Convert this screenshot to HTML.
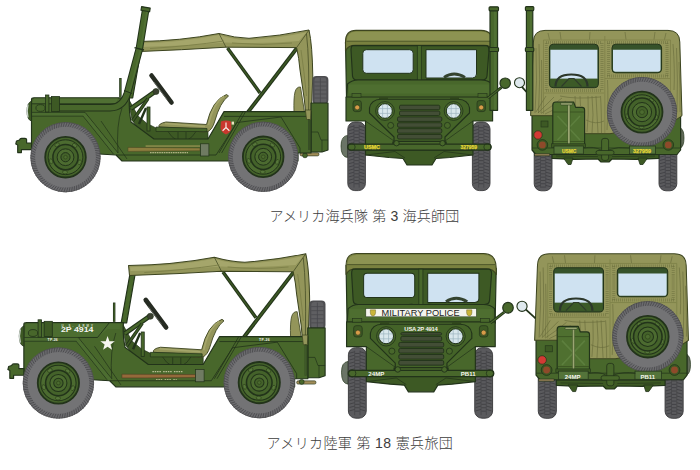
<!DOCTYPE html>
<html lang="ja"><head><meta charset="utf-8"><title>M151A2</title>
<style>
html,body{margin:0;padding:0;background:#fff;}
body{width:700px;height:470px;overflow:hidden;position:relative;font-family:"Liberation Sans","Noto Sans CJK JP",sans-serif;}
svg{position:absolute;left:0;top:0;}
.cap{position:absolute;color:#3c3c3c;font-size:14px;font-weight:300;white-space:nowrap;line-height:16px;}
</style></head><body>
<svg width="700" height="470" viewBox="0 0 700 470">
<g id="r1side"><path d="M135.9,50 L127.3,98 L132.7,98 L141,50 Z" fill="#48672b" stroke="#22331a" stroke-width="1.15" stroke-linejoin="round"/><path d="M120.4,78 L120.4,97" stroke="#22331a" stroke-width="2.4"/><path d="M120.4,78.6 L120.4,97" stroke="#48672b" stroke-width="1"/><path d="M294,112 Q293.5,98 295,92 Q296.5,86.6 300.5,87 L304.5,112 Z" fill="#93955a" stroke="#3d4520" stroke-width="0.8"/><path d="M227.5,48 L260,93" stroke="#22331a" stroke-width="3.4" fill="none"/><path d="M227.5,48 L260,93" stroke="#3d5924" stroke-width="1.3" fill="none"/><path d="M297,48 L242,120" stroke="#22331a" stroke-width="3.8" fill="none"/><path d="M297,48 L242,120" stroke="#3d5924" stroke-width="1.6" fill="none"/><path d="M139,41.5 Q180,41 219,33.5 Q235,38 249,38.3 Q280,36 309,30 Q312.4,45 312.8,77 L311,117 L306,117 L304.4,100 L300,70 Q299,58 296.6,47.6 L226,47.2 Q180,50 140,51.5 Z" fill="#93955a" stroke="#3d4520" stroke-width="1" stroke-linejoin="round"/><path d="M140.5,43.3 Q180,42.5 219,35 Q235,40 249,40 Q280,38 306.6,32.3 L299,41 Q260,44 226,42.5 Q180,46 141,47 Z" fill="#a5a66b"/><path d="M219,33.5 L226,47.2 M309,30 L296.6,47.6 M306.5,34 Q309.6,60 308.6,110" stroke="#3d4520" stroke-width="0.7" fill="none"/><path d="M150,48.5 Q190,46 224,41 M232,43 Q262,46 292,43 M301,50 Q304,70 306.5,96" stroke="#7d8048" stroke-width="0.9" fill="none"/><rect x="312.4" y="76" width="16" height="28" rx="4" fill="#4d4d50"/><rect x="314.4" y="77.5" width="12" height="26" rx="3" fill="#5f5f62"/><path d="M320.4,78 V103 M314.4,82h12M314.4,86h12M314.4,90h12M314.4,94h12M314.4,98h12" stroke="#47474a" stroke-width="0.7"/><path d="M311,103 L328,103 L328,150 L322,152 L311,152 Z" fill="#48672b" stroke="#22331a" stroke-width="1.15" stroke-linejoin="round"/><path d="M311,132 L318,132 L321,140 L328,140 M322,140 L322,152" fill="none" stroke="#22331a" stroke-width="0.7"/><rect x="300" y="152.7" width="19" height="3.2" rx="1.4" fill="#a08c58" stroke="#22331a" stroke-width="0.6"/><circle cx="305" cy="155.4" r="2.4" fill="#48672b" stroke="#22331a" stroke-width="0.7"/><path d="M128,98 L138,116 L147,123.5 L156,128 L208,128 L208,140 L146,140 L132,120 Z" fill="#3d5924" stroke="#22331a" stroke-width="0.7"/><path d="M131,108.5 L156,91" stroke="#22331a" stroke-width="4.6" fill="none"/><path d="M131,108.5 L156,91" stroke="#48672b" stroke-width="2.6" fill="none"/><path d="M132.5,121 L148,98.5" stroke="#22331a" stroke-width="3.4" fill="none"/><path d="M132.5,121 L148,98.5" stroke="#3d5924" stroke-width="1.6" fill="none"/><path d="M139,124 L146,108" stroke="#22331a" stroke-width="2.4" fill="none"/><circle cx="156" cy="91.5" r="3" fill="#3a4030" stroke="#22331a" stroke-width="0.6"/><path d="M151.5,75.5 L171.5,102.5" stroke="#262b22" stroke-width="4.6" stroke-linecap="round" fill="none"/><path d="M154,82 L167,99.5" stroke="#6a6f66" stroke-width="0.9" fill="none"/><rect x="147" y="107" width="3" height="24" fill="#48672b" stroke="#22331a" stroke-width="0.8"/><path d="M226.5,94.5 Q212,100 206.5,124.5 L166,122 Q158,123.5 159,127 L190,128.5 Q200,133.5 208,131.5 Q212.5,129 214.5,122 Q220,102 228.5,96 Z" fill="#93955a" stroke="#3d4520" stroke-width="0.9" stroke-linejoin="round"/><path d="M224,96.5 Q213,103 208.5,125" fill="none" stroke="#a5a66b" stroke-width="1.6"/><path d="M165,123.6 L205,126.4" fill="none" stroke="#a5a66b" stroke-width="1.5"/><path d="M156,127 L207,128.5 L207,131.5 L156,131.5 Z" fill="#48672b" stroke="#22331a" stroke-width="0.7"/><path d="M168,131.5 Q172,138 176,139.5 M196,131.5 Q192,138 188,139.5 M178,132 V139 M186,132 V139" stroke="#22331a" stroke-width="0.7" fill="none"/><path d="M31.5,99.5 Q31.5,97.8 34,97.8 L129.5,97.8 Q128.5,110 131,122 L154,139 L208,139 L224,111.6 L311,111.6 L311,153 L298,153 L298,161 L219,161 L122,161 L116,155 L31.5,150 Z" fill="#48672b" stroke="#22331a" stroke-width="1.15" stroke-linejoin="round"/><path d="M34,98.3 L118,98.3 L116,103.6 L32,103.6 Z" fill="#577738" opacity="0.6"/><path d="M32,103.8 L116,103.8" fill="none" stroke="#22331a" stroke-width="0.9"/><path d="M32,112.4 L85,112.4 L118,153 M32,116 L83,116 L113.5,154" fill="none" stroke="#22331a" stroke-width="0.9"/><path d="M85,112.4 L118,153 L116,155 L113.5,154 L83,116 Z" fill="#577738" opacity="0.35"/><path d="M32,112.4 L85,112.4 L83,116 L32,116 Z" fill="#577738" opacity="0.35"/><path d="M57,107.7 L110,107.7 Q123,107.7 127.5,93 L139.3,49 L145.8,9" fill="none" stroke="#22331a" stroke-width="7.6" stroke-linejoin="round"/><path d="M57,107.7 L110,107.7 Q123,107.7 127.5,93 L139.3,49 L145.8,9" fill="none" stroke="#48672b" stroke-width="5.6" stroke-linejoin="round"/><path d="M129.3,93 L140.7,49 L147,11" fill="none" stroke="#577738" stroke-width="1.6" opacity="0.6"/><path d="M141.6,6.6 L150.2,8.1 L149.6,11.8 L141,10.3 Z" fill="#48672b" stroke="#22331a" stroke-width="1.15" stroke-linejoin="round"/><path d="M134.5,47.6 L144,50" stroke="#22331a" stroke-width="1.4"/><path d="M124,90.5 L132,93.5" stroke="#22331a" stroke-width="1"/><rect x="45.5" y="95" width="3.4" height="17" fill="#48672b" stroke="#22331a" stroke-width="0.8"/><rect x="51.5" y="96.5" width="8" height="15" fill="#3d5924" stroke="#22331a" stroke-width="0.8"/><ellipse cx="40.5" cy="108" rx="4.6" ry="3.4" fill="#48672b" stroke="#22331a" stroke-width="0.8"/><path d="M31.5,101 Q27,103 27,111 Q27,120 31.5,121 Z" fill="#3d5924" stroke="#22331a" stroke-width="0.8"/><path d="M28,104.5 Q26.3,111 28,117.5" stroke="#cfd8d0" stroke-width="1.3" fill="none"/><path d="M101,121 L127,159 M122,108 Q116,125 118,153" fill="none" stroke="#22331a" stroke-width="0.7"/><path d="M116,155 L216,155 L237,122.5 L281,117 M243,111.6 L219,153 M245.6,111.6 L221.6,153 M224,116.4 L311,116.4 M281,117 L300,148 L300,153" fill="none" stroke="#22331a" stroke-width="0.8"/><path d="M305.4,110 L310.9,110 L310.6,119.5 L306.6,119.5 Z" fill="#93955a" stroke="#3d4520" stroke-width="0.7"/><path d="M308.8,119.5 V150" stroke="#22331a" stroke-width="1.6"/><path d="M308.8,120 V150" stroke="#577738" stroke-width="0.6"/><rect x="145.6" y="145.5" width="54.4" height="1.1" fill="#a69a58"/><path d="M128,147.4 L200,148 L200,150.8 L150,151.2 L128,151.4 Z" fill="#8c7d3e" stroke="#4a4420" stroke-width="0.5"/><path d="M150,152.7 H188" stroke="#aeb083" stroke-width="1.2" stroke-dasharray="1.6 0.7"/><rect x="200.5" y="143.8" width="8.4" height="12.2" fill="#6f7b62" stroke="#22331a" stroke-width="0.7"/><path d="M31.5,143 L26.6,143 L26.6,139.6 Q26.6,138.4 25,138.4 L21.5,138.4 Q20,138.4 19.5,140 L16.5,141 L15.8,144 L17.7,145 L17.7,152.6 L21.4,152.6 L21.4,149.6 L31.5,149.6 Z" fill="#48672b" stroke="#22331a" stroke-width="1.15" stroke-linejoin="round"/><circle cx="65.5" cy="157.2" r="35" fill="#6c6c6f"/><circle cx="65.5" cy="157.2" r="30.4" fill="#737375"/><path d="M95.9,157.2L100.5,158.9M95.8,159.5L100.2,161.6M95.6,161.7L99.8,164.1M95.1,164.0L99.2,166.7M94.5,166.2L98.4,169.2M93.8,168.3L97.4,171.6M92.9,170.4L96.2,173.9M91.8,172.4L94.9,176.2M90.6,174.3L93.4,178.3M89.3,176.2L91.7,180.4M87.8,177.9L89.9,182.3M86.2,179.5L88.0,184.0M84.5,181.0L85.9,185.6M82.6,182.3L83.7,187.1M80.7,183.5L81.5,188.3M78.7,184.6L79.1,189.5M76.6,185.5L76.6,190.4M74.5,186.2L74.1,191.1M72.3,186.8L71.6,191.7M70.0,187.3L69.0,192.0M67.8,187.5L66.4,192.2M65.5,187.6L63.8,192.2M63.2,187.5L61.1,191.9M61.0,187.3L58.6,191.5M58.7,186.8L56.0,190.9M56.5,186.2L53.5,190.1M54.4,185.5L51.1,189.1M52.3,184.6L48.8,187.9M50.3,183.5L46.5,186.6M48.4,182.3L44.4,185.1M46.5,181.0L42.3,183.4M44.8,179.5L40.4,181.6M43.2,177.9L38.7,179.7M41.7,176.2L37.1,177.6M40.4,174.3L35.6,175.4M39.2,172.4L34.4,173.2M38.1,170.4L33.2,170.8M37.2,168.3L32.3,168.3M36.5,166.2L31.6,165.8M35.9,164.0L31.0,163.3M35.4,161.7L30.7,160.7M35.2,159.5L30.5,158.1M35.1,157.2L30.5,155.5M35.2,154.9L30.8,152.8M35.4,152.7L31.2,150.3M35.9,150.4L31.8,147.7M36.5,148.2L32.6,145.2M37.2,146.1L33.6,142.8M38.1,144.0L34.8,140.5M39.2,142.0L36.1,138.2M40.4,140.1L37.6,136.1M41.7,138.2L39.3,134.0M43.2,136.5L41.1,132.1M44.8,134.9L43.0,130.4M46.5,133.4L45.1,128.8M48.4,132.1L47.3,127.3M50.3,130.9L49.5,126.1M52.3,129.8L51.9,124.9M54.4,128.9L54.4,124.0M56.5,128.2L56.9,123.3M58.7,127.6L59.4,122.7M61.0,127.1L62.0,122.4M63.2,126.9L64.6,122.2M65.5,126.8L67.2,122.2M67.8,126.9L69.9,122.5M70.0,127.1L72.4,122.9M72.3,127.6L75.0,123.5M74.5,128.2L77.5,124.3M76.6,128.9L79.9,125.3M78.7,129.8L82.2,126.5M80.7,130.9L84.5,127.8M82.6,132.1L86.6,129.3M84.5,133.4L88.7,131.0M86.2,134.9L90.6,132.8M87.8,136.5L92.3,134.7M89.3,138.2L93.9,136.8M90.6,140.1L95.4,139.0M91.8,142.0L96.6,141.2M92.9,144.0L97.8,143.6M93.8,146.1L98.7,146.1M94.5,148.2L99.4,148.6M95.1,150.4L100.0,151.1M95.6,152.7L100.3,153.7M95.8,154.9L100.5,156.3" stroke="#47474a" stroke-width="0.8" fill="none"/><circle cx="65.5" cy="157.2" r="34.7" fill="none" stroke="#4c4c4e" stroke-width="0.7"/><circle cx="65.5" cy="157.2" r="20.3" fill="#44622a" stroke="#22331a" stroke-width="1.8"/><circle cx="65.5" cy="157.2" r="17.4" fill="#4c6b30" stroke="#22331a" stroke-width="1"/><ellipse cx="79.6" cy="162.3" rx="2.5" ry="1.7" transform="rotate(110 79.6 162.3)" fill="#56763a" stroke="#2f451b" stroke-width="0.7"/><ellipse cx="65.0" cy="172.2" rx="2.5" ry="1.7" transform="rotate(182 65.0 172.2)" fill="#56763a" stroke="#2f451b" stroke-width="0.7"/><ellipse cx="51.1" cy="161.3" rx="2.5" ry="1.7" transform="rotate(254 51.1 161.3)" fill="#56763a" stroke="#2f451b" stroke-width="0.7"/><ellipse cx="57.1" cy="144.8" rx="2.5" ry="1.7" transform="rotate(326 57.1 144.8)" fill="#56763a" stroke="#2f451b" stroke-width="0.7"/><ellipse cx="74.7" cy="145.4" rx="2.5" ry="1.7" transform="rotate(398 74.7 145.4)" fill="#56763a" stroke="#2f451b" stroke-width="0.7"/><circle cx="65.5" cy="157.2" r="12.6" fill="#44622a" stroke="#22331a" stroke-width="1.5"/><circle cx="65.5" cy="157.2" r="8.4" fill="#4c6b30" stroke="#22331a" stroke-width="1"/><circle cx="65.5" cy="157.2" r="4.6" fill="#44622a" stroke="#22331a" stroke-width="1"/><circle cx="65.5" cy="157.2" r="1.8" fill="#4c6b30" stroke="#2f451b" stroke-width="0.7"/><circle cx="263.2" cy="156.8" r="35" fill="#6c6c6f"/><circle cx="263.2" cy="156.8" r="30.4" fill="#737375"/><path d="M293.6,156.8L298.2,158.5M293.5,159.1L297.9,161.2M293.3,161.3L297.5,163.7M292.8,163.6L296.9,166.3M292.2,165.8L296.1,168.8M291.5,167.9L295.1,171.2M290.6,170.0L293.9,173.5M289.5,172.0L292.6,175.8M288.3,173.9L291.1,177.9M287.0,175.8L289.4,180.0M285.5,177.5L287.6,181.9M283.9,179.1L285.7,183.6M282.2,180.6L283.6,185.2M280.3,181.9L281.4,186.7M278.4,183.1L279.2,187.9M276.4,184.2L276.8,189.1M274.3,185.1L274.3,190.0M272.2,185.8L271.8,190.7M270.0,186.4L269.3,191.3M267.7,186.9L266.7,191.6M265.5,187.1L264.1,191.8M263.2,187.2L261.5,191.8M260.9,187.1L258.8,191.5M258.7,186.9L256.3,191.1M256.4,186.4L253.7,190.5M254.2,185.8L251.2,189.7M252.1,185.1L248.8,188.7M250.0,184.2L246.5,187.5M248.0,183.1L244.2,186.2M246.1,181.9L242.1,184.7M244.2,180.6L240.0,183.0M242.5,179.1L238.1,181.2M240.9,177.5L236.4,179.3M239.4,175.8L234.8,177.2M238.1,173.9L233.3,175.0M236.9,172.0L232.1,172.8M235.8,170.0L230.9,170.4M234.9,167.9L230.0,167.9M234.2,165.8L229.3,165.4M233.6,163.6L228.7,162.9M233.1,161.3L228.4,160.3M232.9,159.1L228.2,157.7M232.8,156.8L228.2,155.1M232.9,154.5L228.5,152.4M233.1,152.3L228.9,149.9M233.6,150.0L229.5,147.3M234.2,147.8L230.3,144.8M234.9,145.7L231.3,142.4M235.8,143.6L232.5,140.1M236.9,141.6L233.8,137.8M238.1,139.7L235.3,135.7M239.4,137.8L237.0,133.6M240.9,136.1L238.8,131.7M242.5,134.5L240.7,130.0M244.2,133.0L242.8,128.4M246.1,131.7L245.0,126.9M248.0,130.5L247.2,125.7M250.0,129.4L249.6,124.5M252.1,128.5L252.1,123.6M254.2,127.8L254.6,122.9M256.4,127.2L257.1,122.3M258.7,126.7L259.7,122.0M260.9,126.5L262.3,121.8M263.2,126.4L264.9,121.8M265.5,126.5L267.6,122.1M267.7,126.7L270.1,122.5M270.0,127.2L272.7,123.1M272.2,127.8L275.2,123.9M274.3,128.5L277.6,124.9M276.4,129.4L279.9,126.1M278.4,130.5L282.2,127.4M280.3,131.7L284.3,128.9M282.2,133.0L286.4,130.6M283.9,134.5L288.3,132.4M285.5,136.1L290.0,134.3M287.0,137.8L291.6,136.4M288.3,139.7L293.1,138.6M289.5,141.6L294.3,140.8M290.6,143.6L295.5,143.2M291.5,145.7L296.4,145.7M292.2,147.8L297.1,148.2M292.8,150.0L297.7,150.7M293.3,152.3L298.0,153.3M293.5,154.5L298.2,155.9" stroke="#47474a" stroke-width="0.8" fill="none"/><circle cx="263.2" cy="156.8" r="34.7" fill="none" stroke="#4c4c4e" stroke-width="0.7"/><circle cx="263.2" cy="156.8" r="20.3" fill="#44622a" stroke="#22331a" stroke-width="1.8"/><circle cx="263.2" cy="156.8" r="17.4" fill="#4c6b30" stroke="#22331a" stroke-width="1"/><ellipse cx="277.3" cy="161.9" rx="2.5" ry="1.7" transform="rotate(110 277.3 161.9)" fill="#56763a" stroke="#2f451b" stroke-width="0.7"/><ellipse cx="262.7" cy="171.8" rx="2.5" ry="1.7" transform="rotate(182 262.7 171.8)" fill="#56763a" stroke="#2f451b" stroke-width="0.7"/><ellipse cx="248.8" cy="160.9" rx="2.5" ry="1.7" transform="rotate(254 248.8 160.9)" fill="#56763a" stroke="#2f451b" stroke-width="0.7"/><ellipse cx="254.8" cy="144.4" rx="2.5" ry="1.7" transform="rotate(326 254.8 144.4)" fill="#56763a" stroke="#2f451b" stroke-width="0.7"/><ellipse cx="272.4" cy="145.0" rx="2.5" ry="1.7" transform="rotate(398 272.4 145.0)" fill="#56763a" stroke="#2f451b" stroke-width="0.7"/><circle cx="263.2" cy="156.8" r="12.6" fill="#44622a" stroke="#22331a" stroke-width="1.5"/><circle cx="263.2" cy="156.8" r="8.4" fill="#4c6b30" stroke="#22331a" stroke-width="1"/><circle cx="263.2" cy="156.8" r="4.6" fill="#44622a" stroke="#22331a" stroke-width="1"/><circle cx="263.2" cy="156.8" r="1.8" fill="#4c6b30" stroke="#2f451b" stroke-width="0.7"/><path d="M221,121.5 Q226,119.5 231,121.5 L231.5,128 Q231,132 226,134.5 Q221,132 220.5,128 Z" fill="#c9382e"/><path d="M226,122.5 L226,127.5 L222.6,130.8 M226,127.5 L229.4,130.8" stroke="#f6ece4" stroke-width="1.2" fill="none"/><rect x="231.6" y="121.6" width="2.4" height="3" fill="#ece4c4"/></g>
<g id="r1front"><path d="M347.5,135.4 Q341,136 341,146 Q341,157 347.5,157.5 Z" fill="#6a7466" stroke="#22331a" stroke-width="0.7"/><rect x="347.8" y="122" width="17.6" height="68.6" rx="7" fill="#5a5a5d" stroke="#38383a" stroke-width="0.9"/><path d="M348.8,127.4L354.0,126.0M359.20000000000005,126.0L364.40000000000003,127.4M354.40000000000003,127.65H358.8M348.8,130.70000000000002L354.0,129.3M359.20000000000005,129.3L364.40000000000003,130.70000000000002M354.40000000000003,130.95000000000002H358.8M348.8,134.0L354.0,132.6M359.20000000000005,132.6L364.40000000000003,134.0M354.40000000000003,134.25H358.8M348.8,137.3L354.0,135.9M359.20000000000005,135.9L364.40000000000003,137.3M354.40000000000003,137.55H358.8M348.8,140.6L354.0,139.2M359.20000000000005,139.2L364.40000000000003,140.6M354.40000000000003,140.85H358.8M348.8,143.9L354.0,142.5M359.20000000000005,142.5L364.40000000000003,143.9M354.40000000000003,144.15H358.8M348.8,147.20000000000002L354.0,145.8M359.20000000000005,145.8L364.40000000000003,147.20000000000002M354.40000000000003,147.45000000000002H358.8M348.8,150.5L354.0,149.1M359.20000000000005,149.1L364.40000000000003,150.5M354.40000000000003,150.75H358.8M348.8,153.8L354.0,152.4M359.20000000000005,152.4L364.40000000000003,153.8M354.40000000000003,154.05H358.8M348.8,157.1L354.0,155.7M359.20000000000005,155.7L364.40000000000003,157.1M354.40000000000003,157.35H358.8M348.8,160.4L354.0,159.0M359.20000000000005,159.0L364.40000000000003,160.4M354.40000000000003,160.65H358.8M348.8,163.70000000000002L354.0,162.3M359.20000000000005,162.3L364.40000000000003,163.70000000000002M354.40000000000003,163.95000000000002H358.8M348.8,167.0L354.0,165.6M359.20000000000005,165.6L364.40000000000003,167.0M354.40000000000003,167.25H358.8M348.8,170.3L354.0,168.9M359.20000000000005,168.9L364.40000000000003,170.3M354.40000000000003,170.55H358.8M348.8,173.6L354.0,172.2M359.20000000000005,172.2L364.40000000000003,173.6M354.40000000000003,173.85H358.8M348.8,176.9L354.0,175.5M359.20000000000005,175.5L364.40000000000003,176.9M354.40000000000003,177.15H358.8M348.8,180.20000000000002L354.0,178.8M359.20000000000005,178.8L364.40000000000003,180.20000000000002M354.40000000000003,180.45000000000002H358.8M348.8,183.5L354.0,182.1M359.20000000000005,182.1L364.40000000000003,183.5M354.40000000000003,183.75H358.8" stroke="#3e3e41" stroke-width="0.8" fill="none"/><path d="M354.0,125V187.6M359.20000000000005,125V187.6" stroke="#444447" stroke-width="0.7"/><rect x="472.4" y="122" width="17.6" height="68.6" rx="7" fill="#5a5a5d" stroke="#38383a" stroke-width="0.9"/><path d="M473.4,127.4L478.59999999999997,126.0M483.8,126.0L489.0,127.4M479.0,127.65H483.4M473.4,130.70000000000002L478.59999999999997,129.3M483.8,129.3L489.0,130.70000000000002M479.0,130.95000000000002H483.4M473.4,134.0L478.59999999999997,132.6M483.8,132.6L489.0,134.0M479.0,134.25H483.4M473.4,137.3L478.59999999999997,135.9M483.8,135.9L489.0,137.3M479.0,137.55H483.4M473.4,140.6L478.59999999999997,139.2M483.8,139.2L489.0,140.6M479.0,140.85H483.4M473.4,143.9L478.59999999999997,142.5M483.8,142.5L489.0,143.9M479.0,144.15H483.4M473.4,147.20000000000002L478.59999999999997,145.8M483.8,145.8L489.0,147.20000000000002M479.0,147.45000000000002H483.4M473.4,150.5L478.59999999999997,149.1M483.8,149.1L489.0,150.5M479.0,150.75H483.4M473.4,153.8L478.59999999999997,152.4M483.8,152.4L489.0,153.8M479.0,154.05H483.4M473.4,157.1L478.59999999999997,155.7M483.8,155.7L489.0,157.1M479.0,157.35H483.4M473.4,160.4L478.59999999999997,159.0M483.8,159.0L489.0,160.4M479.0,160.65H483.4M473.4,163.70000000000002L478.59999999999997,162.3M483.8,162.3L489.0,163.70000000000002M479.0,163.95000000000002H483.4M473.4,167.0L478.59999999999997,165.6M483.8,165.6L489.0,167.0M479.0,167.25H483.4M473.4,170.3L478.59999999999997,168.9M483.8,168.9L489.0,170.3M479.0,170.55H483.4M473.4,173.6L478.59999999999997,172.2M483.8,172.2L489.0,173.6M479.0,173.85H483.4M473.4,176.9L478.59999999999997,175.5M483.8,175.5L489.0,176.9M479.0,177.15H483.4M473.4,180.20000000000002L478.59999999999997,178.8M483.8,178.8L489.0,180.20000000000002M479.0,180.45000000000002H483.4M473.4,183.5L478.59999999999997,182.1M483.8,182.1L489.0,183.5M479.0,183.75H483.4" stroke="#3e3e41" stroke-width="0.8" fill="none"/><path d="M478.59999999999997,125V187.6M483.8,125V187.6" stroke="#444447" stroke-width="0.7"/><path d="M365.5,149 L473,149 L473,155 L450,157.5 L436,158.5 L432,165 L407,165 L403,158.5 L389,157.5 L365.5,155 Z" fill="#3d5924" stroke="#22331a" stroke-width="1.15" stroke-linejoin="round"/><path d="M366,155 L395,151.5 L405,158 M473,155 L444,151.5 L434,158" fill="none" stroke="#22331a" stroke-width="0.7"/><path d="M345.5,42 L346.5,98 L492.5,98 L493.6,45 Z" fill="#48672b" stroke="#22331a" stroke-width="1.15" stroke-linejoin="round"/><path d="M345.5,51 L345.5,42 Q345.5,30.4 356,30.4 L481,30.4 Q493.6,30.4 493.6,45 L493.6,51 Q491,45.4 484,45.4 L355,45.4 Q348,45.4 345.5,51 Z" fill="#79813f" stroke="#3d4520" stroke-width="1.1"/><path d="M346.8,41 Q347,31.8 356,31.8 L481,31.8 Q491.6,31.8 492.4,41 Z" fill="#8c9352"/><path d="M346.5,41.2 H492.6" stroke="#3d4520" stroke-width="0.7"/><path d="M353,45.6 L486,45.6 Q489,45.6 489,50 L487,76 Q486.5,80 482,80 L357,80 Q353,80 352.5,76 L351,50 Q351,45.6 353,45.6 Z" fill="#3d5924" stroke="#22331a" stroke-width="1.15" stroke-linejoin="round"/><rect x="362.8" y="49.7" width="50.4" height="23.6" rx="3.5" fill="#cfe2f1" stroke="#22331a" stroke-width="1"/><path d="M426,49.7 L476.5,49.7 L476.5,74 Q476.5,78 472.5,78 L426,78 Z" fill="#cfe2f1" stroke="#22331a" stroke-width="1"/><rect x="417.3" y="45.6" width="4" height="34.4" fill="#48672b" stroke="#22331a" stroke-width="0.7"/><path d="M444,77.4 Q454,70.6 465,77.4" fill="none" stroke="#34432f" stroke-width="2.8"/><path d="M382,82.8 L411,79.6 M426,79.6 L459,82.4" stroke="#22331a" stroke-width="0.9"/><path d="M347.5,84 Q352,80 358,80 L481,80 Q488,80 492,84 L492.5,98 L346.5,98 Z" fill="#48672b" stroke="#22331a" stroke-width="1.15" stroke-linejoin="round"/><rect x="349" y="84.5" width="141" height="9" fill="#577738" opacity="0.45"/><path d="M346,97 L492.6,97 L492.6,121 L473,121 L473,150 L365.5,150 L365.5,121 L346,121 Z" fill="#48672b" stroke="#22331a" stroke-width="1.15" stroke-linejoin="round"/><path d="M369.5,108 Q371,99.4 381,99.2 L458,99.2 Q468,99.4 469.5,108 L469.5,113 L445,137 L445,141.4 L394,141.4 L394,137 L369.5,113 Z" fill="#446328" stroke="#22331a" stroke-width="1.15" stroke-linejoin="round"/><path d="M365.5,121 L394,141 M473,121 L445,141" stroke="#22331a" stroke-width="0.7" fill="none"/><rect x="352" y="93.6" width="9" height="3.6" fill="#48672b" stroke="#22331a" stroke-width="0.6"/><rect x="478" y="93.6" width="9" height="3.6" fill="#48672b" stroke="#22331a" stroke-width="0.6"/><rect x="379" y="97.4" width="9" height="1.8" fill="#2f451b"/><rect x="450" y="97.4" width="9" height="1.8" fill="#2f451b"/><rect x="399.5" y="105.20" width="40.3" height="4.5" rx="1.4" fill="#434e36" stroke="#22331a" stroke-width="0.9"/><rect x="399.5" y="111.06" width="40.3" height="4.5" rx="1.4" fill="#434e36" stroke="#22331a" stroke-width="0.9"/><rect x="397.5" y="116.92" width="44.3" height="4.5" rx="1.4" fill="#434e36" stroke="#22331a" stroke-width="0.9"/><rect x="397.5" y="122.78" width="44.3" height="4.5" rx="1.4" fill="#434e36" stroke="#22331a" stroke-width="0.9"/><rect x="397.5" y="128.64" width="44.3" height="4.5" rx="1.4" fill="#434e36" stroke="#22331a" stroke-width="0.9"/><rect x="397.5" y="134.50" width="44.3" height="4.5" rx="1.4" fill="#434e36" stroke="#22331a" stroke-width="0.9"/><circle cx="385" cy="111" r="9.4" fill="#48672b" stroke="#22331a" stroke-width="0.8"/><circle cx="385" cy="111" r="7.3" fill="#d9e7ec" stroke="#22331a" stroke-width="1"/><path d="M378.6,108.6 h12.8 M378.6,113.4 h12.8 M382.6,104.4 v13.2 M387.4,104.4 v13.2" stroke="#9db4c0" stroke-width="0.7"/><circle cx="453.6" cy="111" r="9.4" fill="#48672b" stroke="#22331a" stroke-width="0.8"/><circle cx="453.6" cy="111" r="7.3" fill="#d9e7ec" stroke="#22331a" stroke-width="1"/><path d="M447.20000000000005,108.6 h12.8 M447.20000000000005,113.4 h12.8 M451.20000000000005,104.4 v13.2 M456.0,104.4 v13.2" stroke="#9db4c0" stroke-width="0.7"/><circle cx="390.7" cy="125.4" r="3" fill="#48672b" stroke="#22331a" stroke-width="0.8"/><circle cx="447.4" cy="125.4" r="3" fill="#48672b" stroke="#22331a" stroke-width="0.8"/><rect x="353.0" y="100.6" width="8.4" height="11" rx="2.4" fill="#3d5924" stroke="#22331a" stroke-width="0.7"/><circle cx="357.2" cy="107.4" r="2.5" fill="#d89c48" stroke="#22331a" stroke-width="0.6"/><rect x="477.0" y="100.6" width="8.4" height="11" rx="2.4" fill="#3d5924" stroke="#22331a" stroke-width="0.7"/><circle cx="481.2" cy="107.4" r="2.5" fill="#d89c48" stroke="#22331a" stroke-width="0.6"/><rect x="347.6" y="144.1" width="143.6" height="6" rx="3" fill="#48672b" stroke="#22331a" stroke-width="1.15" stroke-linejoin="round"/><path d="M394,141.4 V144 M445,141.4 V144" stroke="#22331a" stroke-width="3.4"/><circle cx="396.5" cy="143.2" r="2.7" fill="#48672b" stroke="#22331a" stroke-width="0.9"/><circle cx="442.5" cy="143.2" r="2.7" fill="#48672b" stroke="#22331a" stroke-width="0.9"/><circle cx="351.6" cy="147" r="3.6" fill="none" stroke="#22331a" stroke-width="0.8"/><circle cx="487.4" cy="147" r="3.6" fill="none" stroke="#22331a" stroke-width="0.8"/><text x="364" y="149.1" font-family="Liberation Sans, sans-serif" font-weight="bold" font-size="5.7" fill="#e6d634" stroke="#e6d634" stroke-width="0.25" textLength="16" lengthAdjust="spacingAndGlyphs">USMC</text><text x="460.5" y="149.1" font-family="Liberation Sans, sans-serif" font-weight="bold" font-size="5.7" fill="#e6d634" stroke="#e6d634" stroke-width="0.25" textLength="16.5" lengthAdjust="spacingAndGlyphs">327959</text><rect x="490" y="9.5" width="7.6" height="100.8" fill="#48672b" stroke="#22331a" stroke-width="1.15" stroke-linejoin="round"/><rect x="494" y="10" width="2.4" height="99.8" fill="#577738" opacity="0.6"/><rect x="489.1" y="6.8" width="9.4" height="4" rx="1" fill="#48672b" stroke="#22331a" stroke-width="1.15" stroke-linejoin="round"/><rect x="489.1" y="47.5" width="9.4" height="4" rx="1" fill="#48672b" stroke="#22331a" stroke-width="1.15" stroke-linejoin="round"/><path d="M488,98 L501.5,87.4" stroke="#22331a" stroke-width="2.8"/><path d="M488,98 L501.5,87.4" stroke="#48672b" stroke-width="1.1"/><circle cx="505.2" cy="83.2" r="5.2" fill="#48672b" stroke="#22331a" stroke-width="1.15" stroke-linejoin="round"/></g>
<g id="r1rear"><g transform="translate(0,0)"><rect x="534.2" y="122" width="17.8" height="68.8" rx="7" fill="#5a5a5d" stroke="#38383a" stroke-width="0.9"/><path d="M535.2,127.4L540.5,126.0M545.7,126.0L551.0,127.4M540.9,127.65H545.3000000000001M535.2,130.70000000000002L540.5,129.3M545.7,129.3L551.0,130.70000000000002M540.9,130.95000000000002H545.3000000000001M535.2,134.0L540.5,132.6M545.7,132.6L551.0,134.0M540.9,134.25H545.3000000000001M535.2,137.3L540.5,135.9M545.7,135.9L551.0,137.3M540.9,137.55H545.3000000000001M535.2,140.6L540.5,139.2M545.7,139.2L551.0,140.6M540.9,140.85H545.3000000000001M535.2,143.9L540.5,142.5M545.7,142.5L551.0,143.9M540.9,144.15H545.3000000000001M535.2,147.20000000000002L540.5,145.8M545.7,145.8L551.0,147.20000000000002M540.9,147.45000000000002H545.3000000000001M535.2,150.5L540.5,149.1M545.7,149.1L551.0,150.5M540.9,150.75H545.3000000000001M535.2,153.8L540.5,152.4M545.7,152.4L551.0,153.8M540.9,154.05H545.3000000000001M535.2,157.1L540.5,155.7M545.7,155.7L551.0,157.1M540.9,157.35H545.3000000000001M535.2,160.4L540.5,159.0M545.7,159.0L551.0,160.4M540.9,160.65H545.3000000000001M535.2,163.70000000000002L540.5,162.3M545.7,162.3L551.0,163.70000000000002M540.9,163.95000000000002H545.3000000000001M535.2,167.0L540.5,165.6M545.7,165.6L551.0,167.0M540.9,167.25H545.3000000000001M535.2,170.3L540.5,168.9M545.7,168.9L551.0,170.3M540.9,170.55H545.3000000000001M535.2,173.6L540.5,172.2M545.7,172.2L551.0,173.6M540.9,173.85H545.3000000000001M535.2,176.9L540.5,175.5M545.7,175.5L551.0,176.9M540.9,177.15H545.3000000000001M535.2,180.20000000000002L540.5,178.8M545.7,178.8L551.0,180.20000000000002M540.9,180.45000000000002H545.3000000000001M535.2,183.5L540.5,182.1M545.7,182.1L551.0,183.5M540.9,183.75H545.3000000000001M535.2,186.8L540.5,185.4M545.7,185.4L551.0,186.8M540.9,187.05H545.3000000000001" stroke="#3e3e41" stroke-width="0.8" fill="none"/><path d="M540.5,125V187.8M545.7,125V187.8" stroke="#444447" stroke-width="0.7"/><rect x="659" y="122" width="17.8" height="68.8" rx="7" fill="#5a5a5d" stroke="#38383a" stroke-width="0.9"/><path d="M660,127.4L665.3,126.0M670.5,126.0L675.8,127.4M665.6999999999999,127.65H670.1M660,130.70000000000002L665.3,129.3M670.5,129.3L675.8,130.70000000000002M665.6999999999999,130.95000000000002H670.1M660,134.0L665.3,132.6M670.5,132.6L675.8,134.0M665.6999999999999,134.25H670.1M660,137.3L665.3,135.9M670.5,135.9L675.8,137.3M665.6999999999999,137.55H670.1M660,140.6L665.3,139.2M670.5,139.2L675.8,140.6M665.6999999999999,140.85H670.1M660,143.9L665.3,142.5M670.5,142.5L675.8,143.9M665.6999999999999,144.15H670.1M660,147.20000000000002L665.3,145.8M670.5,145.8L675.8,147.20000000000002M665.6999999999999,147.45000000000002H670.1M660,150.5L665.3,149.1M670.5,149.1L675.8,150.5M665.6999999999999,150.75H670.1M660,153.8L665.3,152.4M670.5,152.4L675.8,153.8M665.6999999999999,154.05H670.1M660,157.1L665.3,155.7M670.5,155.7L675.8,157.1M665.6999999999999,157.35H670.1M660,160.4L665.3,159.0M670.5,159.0L675.8,160.4M665.6999999999999,160.65H670.1M660,163.70000000000002L665.3,162.3M670.5,162.3L675.8,163.70000000000002M665.6999999999999,163.95000000000002H670.1M660,167.0L665.3,165.6M670.5,165.6L675.8,167.0M665.6999999999999,167.25H670.1M660,170.3L665.3,168.9M670.5,168.9L675.8,170.3M665.6999999999999,170.55H670.1M660,173.6L665.3,172.2M670.5,172.2L675.8,173.6M665.6999999999999,173.85H670.1M660,176.9L665.3,175.5M670.5,175.5L675.8,176.9M665.6999999999999,177.15H670.1M660,180.20000000000002L665.3,178.8M670.5,178.8L675.8,180.20000000000002M665.6999999999999,180.45000000000002H670.1M660,183.5L665.3,182.1M670.5,182.1L675.8,183.5M665.6999999999999,183.75H670.1M660,186.8L665.3,185.4M670.5,185.4L675.8,186.8M665.6999999999999,187.05H670.1" stroke="#3e3e41" stroke-width="0.8" fill="none"/><path d="M665.3,125V187.8M670.5,125V187.8" stroke="#444447" stroke-width="0.7"/><path d="M680.6,128 Q684,130 684,138 Q684,146 680.6,148 Z" fill="#606a58" stroke="#22331a" stroke-width="0.7"/><path d="M552,153 L659,153 L659,158.4 L636,159.4 L612,159 L609,162 L601,162 L598,159 L574,159.4 L552,158.4 Z" fill="#3d5924" stroke="#22331a" stroke-width="1.15" stroke-linejoin="round"/><path d="M563.5,158 L568,164.5 L571,164.5 L573,158 Z M647.5,158 L643,164.5 L640,164.5 L638,158 Z" fill="#3d5924" stroke="#22331a" stroke-width="0.8"/><path d="M556,156 L598,156.6 M612,156.6 L655,156" fill="none" stroke="#22331a" stroke-width="0.6"/></g><path d="M532,110 L680.6,110 L680.6,150 L677,154.5 L536,154.5 L532,150 Z" fill="#48672b" stroke="#22331a" stroke-width="1.15" stroke-linejoin="round"/><path d="M532,148 H680.6" stroke="#22331a" stroke-width="0.7"/><path d="M530.6,115.7 L533.4,42 Q533.6,30.4 545,30.4 L668,30.4 Q679.6,30.4 679.8,42 L682,115.7 L670,124 L610,133.7 L584,133.7 L584,115.7 Z" fill="#93955a" stroke="#3d4520" stroke-width="1" stroke-linejoin="round"/><path d="M543.5,40 L543.5,114 M604.8,36 L604.8,133 M670.5,40 L670.5,122 M543.5,40 L670.5,40 M544,93 L604,93 M605,78.5 L670,78.5" fill="none" stroke="#7d8048" stroke-width="0.8"/><path d="M546,42.5 H602 M607,42.5 H668 M546,90.5 H602 M607,76 H668" fill="none" stroke="#6a6e3c" stroke-width="3" stroke-dasharray="0.5 1.5"/><path d="M546.3,43 V91 M602,43 V91 M608.5,43 V76 M667,43 V76" fill="none" stroke="#6a6e3c" stroke-width="3" stroke-dasharray="0.5 1.5"/><path d="M536,48 Q537.5,80 535,113 M539,44 Q540.5,80 538.5,113 M541.5,60 Q542.3,90 541,113 M536,112 Q541,104 546,96 M538,113 Q546,105 554,97 M541,113.5 Q551,107 562,98 M545,114 Q556,110 566,101 M588,96 Q589,115 587,132 M592,96 Q594,115 592,133 M596,96 Q597,115 598,133 M600.5,96 Q601.5,110 601.5,133 M607.5,80 Q608.5,100 607,130 M673,44 Q675,70 674,90 M676.5,48 Q678,80 677,112 M679,62 Q680.4,90 680,112 M560,96 Q575,99.5 600,97 M586,120 Q596,125 604,121 M548,33 L549.5,39.5 M560,32 L561,39.5 M590,32 L589.5,39.5 M625,32 L626,39.5 M655,32 L654,39.5 M666,33 L664.5,39.5 M575,96 L575.6,106 M580,96 L580.5,106" fill="none" stroke="#666a3a" stroke-width="0.6"/><rect x="549.4" y="44.2" width="49" height="43.5" rx="3.8" fill="#36522a" stroke="#22331a" stroke-width="1"/><path d="M550.4,49.8 L597.4,49.8 L597.4,78.8 L550.4,78.8 Z" fill="#cfe2f1"/><rect x="550.4" y="78.8" width="47" height="7.6" fill="#3c5a27"/><path d="M555.5,86.6 Q555.5,74.5 571.3,74.5 Q587.5,74.5 587.5,86.6" fill="none" stroke="#2c372a" stroke-width="2.2"/><path d="M561.5,86.5 L569,78.5 L574,78.5 L581.5,86.5" fill="none" stroke="#2f3b2a" stroke-width="1.1"/><rect x="612" y="44.2" width="49.6" height="28.6" rx="3.8" fill="#36522a" stroke="#22331a" stroke-width="1"/><path d="M613,49.8 L660.6,49.8 L660.6,69 Q660.6,71.8 658,71.8 L615.6,71.8 Q613,71.8 613,69 Z" fill="#cfe2f1"/><circle cx="642" cy="112.1" r="35" fill="#6c6c6f"/><circle cx="642" cy="112.1" r="30.4" fill="#737375"/><path d="M672.4,112.1L677.0,113.8M672.3,114.4L676.7,116.5M672.1,116.6L676.3,119.0M671.6,118.9L675.7,121.6M671.0,121.1L674.9,124.1M670.3,123.2L673.9,126.5M669.4,125.3L672.7,128.8M668.3,127.3L671.4,131.1M667.1,129.2L669.9,133.2M665.8,131.1L668.2,135.3M664.3,132.8L666.4,137.2M662.7,134.4L664.5,138.9M661.0,135.9L662.4,140.5M659.1,137.2L660.2,142.0M657.2,138.4L658.0,143.2M655.2,139.5L655.6,144.4M653.1,140.4L653.1,145.3M651.0,141.1L650.6,146.0M648.8,141.7L648.1,146.6M646.5,142.2L645.5,146.9M644.3,142.4L642.9,147.1M642.0,142.5L640.3,147.1M639.7,142.4L637.6,146.8M637.5,142.2L635.1,146.4M635.2,141.7L632.5,145.8M633.0,141.1L630.0,145.0M630.9,140.4L627.6,144.0M628.8,139.5L625.3,142.8M626.8,138.4L623.0,141.5M624.9,137.2L620.9,140.0M623.0,135.9L618.8,138.3M621.3,134.4L616.9,136.5M619.7,132.8L615.2,134.6M618.2,131.1L613.6,132.5M616.9,129.2L612.1,130.3M615.7,127.3L610.9,128.1M614.6,125.3L609.7,125.7M613.7,123.2L608.8,123.2M613.0,121.1L608.1,120.7M612.4,118.9L607.5,118.2M611.9,116.6L607.2,115.6M611.7,114.4L607.0,113.0M611.6,112.1L607.0,110.4M611.7,109.8L607.3,107.7M611.9,107.6L607.7,105.2M612.4,105.3L608.3,102.6M613.0,103.1L609.1,100.1M613.7,101.0L610.1,97.7M614.6,98.9L611.3,95.4M615.7,96.9L612.6,93.1M616.9,95.0L614.1,91.0M618.2,93.1L615.8,88.9M619.7,91.4L617.6,87.0M621.3,89.8L619.5,85.3M623.0,88.3L621.6,83.7M624.9,87.0L623.8,82.2M626.8,85.8L626.0,81.0M628.8,84.7L628.4,79.8M630.9,83.8L630.9,78.9M633.0,83.1L633.4,78.2M635.2,82.5L635.9,77.6M637.5,82.0L638.5,77.3M639.7,81.8L641.1,77.1M642.0,81.7L643.7,77.1M644.3,81.8L646.4,77.4M646.5,82.0L648.9,77.8M648.8,82.5L651.5,78.4M651.0,83.1L654.0,79.2M653.1,83.8L656.4,80.2M655.2,84.7L658.7,81.4M657.2,85.8L661.0,82.7M659.1,87.0L663.1,84.2M661.0,88.3L665.2,85.9M662.7,89.8L667.1,87.7M664.3,91.4L668.8,89.6M665.8,93.1L670.4,91.7M667.1,95.0L671.9,93.9M668.3,96.9L673.1,96.1M669.4,98.9L674.3,98.5M670.3,101.0L675.2,101.0M671.0,103.1L675.9,103.5M671.6,105.3L676.5,106.0M672.1,107.6L676.8,108.6M672.3,109.8L677.0,111.2" stroke="#47474a" stroke-width="0.8" fill="none"/><circle cx="642" cy="112.1" r="34.7" fill="none" stroke="#4c4c4e" stroke-width="0.7"/><circle cx="642" cy="112.1" r="20.5" fill="#44622a" stroke="#22331a" stroke-width="1.8"/><circle cx="642" cy="112.1" r="17.3" fill="#4c6b30" stroke="#22331a" stroke-width="1"/><ellipse cx="656.1" cy="117.2" rx="2.5" ry="1.7" transform="rotate(110 656.1 117.2)" fill="#56763a" stroke="#2f451b" stroke-width="0.7"/><ellipse cx="641.5" cy="127.1" rx="2.5" ry="1.7" transform="rotate(182 641.5 127.1)" fill="#56763a" stroke="#2f451b" stroke-width="0.7"/><ellipse cx="627.6" cy="116.2" rx="2.5" ry="1.7" transform="rotate(254 627.6 116.2)" fill="#56763a" stroke="#2f451b" stroke-width="0.7"/><ellipse cx="633.6" cy="99.7" rx="2.5" ry="1.7" transform="rotate(326 633.6 99.7)" fill="#56763a" stroke="#2f451b" stroke-width="0.7"/><ellipse cx="651.2" cy="100.3" rx="2.5" ry="1.7" transform="rotate(398 651.2 100.3)" fill="#56763a" stroke="#2f451b" stroke-width="0.7"/><circle cx="642" cy="112.1" r="14" fill="#44622a" stroke="#22331a" stroke-width="1.5"/><circle cx="642" cy="112.1" r="9.6" fill="#4c6b30" stroke="#22331a" stroke-width="1"/><circle cx="642" cy="112.1" r="5.6" fill="#44622a" stroke="#22331a" stroke-width="1"/><circle cx="642" cy="112.1" r="2.4" fill="#4c6b30" stroke="#2f451b" stroke-width="0.7"/><path d="M552.8,105 Q552.8,102 555.8,102 L573.6,102 L575.6,107.4 L582,107.4 Q584.6,107.4 584.6,110 L584.6,145.5 L552.8,145.5 Z" fill="#4f7030" stroke="#22331a" stroke-width="1.15" stroke-linejoin="round"/><path d="M557.5,116 L580,140 M580,116 L557.5,140" stroke="#5d7f3e" stroke-width="1.6" fill="none"/><path d="M552.8,112 H584.6 M552.8,141.5 H584.6" stroke="#2f451b" stroke-width="0.6" fill="none"/><rect x="567.8" y="103.4" width="2.2" height="42" fill="#9aa672" stroke="#2f451b" stroke-width="0.4"/><rect x="560.5" y="102.8" width="12" height="2.2" rx="1" fill="#9aa672" stroke="#22331a" stroke-width="0.5"/><rect x="551.5" y="143.8" width="34" height="3.6" fill="#3d5924" stroke="#22331a" stroke-width="0.6"/><rect x="554" y="146" width="29.3" height="8" fill="#54743a" stroke="#22331a" stroke-width="0.7"/><rect x="629.4" y="146" width="26" height="8" fill="#54743a" stroke="#22331a" stroke-width="0.7"/><rect x="601.6" y="138.4" width="7" height="22" rx="2.4" fill="#48672b" stroke="#22331a" stroke-width="0.8"/><rect x="596" y="150.5" width="18" height="4.4" rx="2" fill="#48672b" stroke="#22331a" stroke-width="0.8"/><path d="M584,148 Q594,146 601,150 M608,150 Q618,146 630,148" fill="none" stroke="#22331a" stroke-width="0.7"/><rect x="541" y="121" width="7" height="6" fill="#3d5924" stroke="#22331a" stroke-width="0.6"/><circle cx="538" cy="135" r="4.2" fill="#d23a34" stroke="#22331a" stroke-width="0.7"/><circle cx="542.4" cy="144.9" r="5.3" fill="#3d5924" stroke="#22331a" stroke-width="0.8"/><circle cx="542.4" cy="144.9" r="3.4" fill="#8e4a2a"/><circle cx="668.3" cy="144.9" r="5.3" fill="#3d5924" stroke="#22331a" stroke-width="0.8"/><circle cx="668.3" cy="144.9" r="3.4" fill="#8e4a2a"/><rect x="534.7" y="153.7" width="15" height="2.2" fill="#8a7850" stroke="#22331a" stroke-width="0.5"/><text x="562" y="153" font-family="Liberation Sans, sans-serif" font-weight="bold" font-size="5.9" fill="#e6d634" stroke="#e6d634" stroke-width="0.25" textLength="14.2" lengthAdjust="spacingAndGlyphs">USMC</text><text x="633" y="153" font-family="Liberation Sans, sans-serif" font-weight="bold" font-size="5.9" fill="#e6d634" stroke="#e6d634" stroke-width="0.25" textLength="18" lengthAdjust="spacingAndGlyphs">327959</text><rect x="526.4" y="9.5" width="6.4" height="100.8" fill="#48672b" stroke="#22331a" stroke-width="1.15" stroke-linejoin="round"/><rect x="529.8" y="10" width="2" height="99.8" fill="#577738" opacity="0.6"/><rect x="525.4" y="6.6" width="8.4" height="4" rx="1" fill="#48672b" stroke="#22331a" stroke-width="1.15" stroke-linejoin="round"/><rect x="525.4" y="47.5" width="8.4" height="4" rx="1" fill="#48672b" stroke="#22331a" stroke-width="1.15" stroke-linejoin="round"/><path d="M526.5,92 L521.5,86.4" stroke="#22331a" stroke-width="1.8"/><circle cx="519.5" cy="82.7" r="5" fill="#dfe9ee" stroke="#22331a" stroke-width="1.1"/></g>
<g id="r2side" transform="translate(58.4,383) scale(1.016) translate(-65.5,-157.2)"><path d="M135.9,50 L127.3,98 L132.7,98 L141,50 Z" fill="#48672b" stroke="#22331a" stroke-width="1.15" stroke-linejoin="round"/><path d="M120.4,78 L120.4,97" stroke="#22331a" stroke-width="2.4"/><path d="M120.4,78.6 L120.4,97" stroke="#48672b" stroke-width="1"/><path d="M294,112 Q293.5,98 295,92 Q296.5,86.6 300.5,87 L304.5,112 Z" fill="#93955a" stroke="#3d4520" stroke-width="0.8"/><path d="M227.5,48 L260,93" stroke="#22331a" stroke-width="3.4" fill="none"/><path d="M227.5,48 L260,93" stroke="#3d5924" stroke-width="1.3" fill="none"/><path d="M297,48 L242,120" stroke="#22331a" stroke-width="3.8" fill="none"/><path d="M297,48 L242,120" stroke="#3d5924" stroke-width="1.6" fill="none"/><path d="M134.5,41.5 Q180,41 219,33.5 Q235,38 249,38.3 Q280,36 309,30 Q312.4,45 312.8,77 L311,117 L306,117 L304.4,100 L300,70 Q299,58 296.6,47.6 L226,47.2 Q180,50 135.5,51.5 Z" fill="#93955a" stroke="#3d4520" stroke-width="1" stroke-linejoin="round"/><path d="M136.0,43.3 Q180,42.5 219,35 Q235,40 249,40 Q280,38 306.6,32.3 L299,41 Q260,44 226,42.5 Q180,46 136.5,47 Z" fill="#a5a66b"/><path d="M219,33.5 L226,47.2 M309,30 L296.6,47.6 M306.5,34 Q309.6,60 308.6,110" stroke="#3d4520" stroke-width="0.7" fill="none"/><path d="M150,48.5 Q190,46 224,41 M232,43 Q262,46 292,43 M301,50 Q304,70 306.5,96" stroke="#7d8048" stroke-width="0.9" fill="none"/><rect x="312.4" y="76" width="16" height="28" rx="4" fill="#4d4d50"/><rect x="314.4" y="77.5" width="12" height="26" rx="3" fill="#5f5f62"/><path d="M320.4,78 V103 M314.4,82h12M314.4,86h12M314.4,90h12M314.4,94h12M314.4,98h12" stroke="#47474a" stroke-width="0.7"/><path d="M311,103 L328,103 L328,150 L322,152 L311,152 Z" fill="#48672b" stroke="#22331a" stroke-width="1.15" stroke-linejoin="round"/><path d="M311,132 L318,132 L321,140 L328,140 M322,140 L322,152" fill="none" stroke="#22331a" stroke-width="0.7"/><rect x="300" y="155.1" width="19" height="3.2" rx="1.4" fill="#a08c58" stroke="#22331a" stroke-width="0.6"/><circle cx="305" cy="156.12" r="2.4" fill="#48672b" stroke="#22331a" stroke-width="0.7"/><path d="M128,98 L138,116 L147,123.5 L156,128 L208,128 L208,140 L146,140 L132,120 Z" fill="#3d5924" stroke="#22331a" stroke-width="0.7"/><path d="M131,108.5 L156,91" stroke="#22331a" stroke-width="4.6" fill="none"/><path d="M131,108.5 L156,91" stroke="#48672b" stroke-width="2.6" fill="none"/><path d="M132.5,121 L148,98.5" stroke="#22331a" stroke-width="3.4" fill="none"/><path d="M132.5,121 L148,98.5" stroke="#3d5924" stroke-width="1.6" fill="none"/><path d="M139,124 L146,108" stroke="#22331a" stroke-width="2.4" fill="none"/><circle cx="156" cy="91.5" r="3" fill="#3a4030" stroke="#22331a" stroke-width="0.6"/><path d="M151.5,75.5 L171.5,102.5" stroke="#262b22" stroke-width="4.6" stroke-linecap="round" fill="none"/><path d="M154,82 L167,99.5" stroke="#6a6f66" stroke-width="0.9" fill="none"/><rect x="147" y="107" width="3" height="24" fill="#48672b" stroke="#22331a" stroke-width="0.8"/><path d="M226.5,94.5 Q212,100 206.5,124.5 L166,122 Q158,123.5 159,127 L190,128.5 Q200,133.5 208,131.5 Q212.5,129 214.5,122 Q220,102 228.5,96 Z" fill="#93955a" stroke="#3d4520" stroke-width="0.9" stroke-linejoin="round"/><path d="M224,96.5 Q213,103 208.5,125" fill="none" stroke="#a5a66b" stroke-width="1.6"/><path d="M165,123.6 L205,126.4" fill="none" stroke="#a5a66b" stroke-width="1.5"/><path d="M156,127 L207,128.5 L207,131.5 L156,131.5 Z" fill="#48672b" stroke="#22331a" stroke-width="0.7"/><path d="M168,131.5 Q172,138 176,139.5 M196,131.5 Q192,138 188,139.5 M178,132 V139 M186,132 V139" stroke="#22331a" stroke-width="0.7" fill="none"/><path d="M31.5,99.5 Q31.5,97.8 34,97.8 L129.5,97.8 Q128.5,110 131,122 L154,139 L208,139 L224,111.6 L311,111.6 L311,153 L298,153 L298,161 L219,161 L122,161 L116,155 L31.5,150 Z" fill="#48672b" stroke="#22331a" stroke-width="1.15" stroke-linejoin="round"/><path d="M32,112.4 L85,112.4 L118,153 M32,116 L83,116 L113.5,154" fill="none" stroke="#22331a" stroke-width="0.9"/><path d="M85,112.4 L118,153 L116,155 L113.5,154 L83,116 Z" fill="#577738" opacity="0.35"/><path d="M32,112.4 L85,112.4 L83,116 L32,116 Z" fill="#577738" opacity="0.35"/><path d="M34,98.3 L126,98.3 L126,104 L114,104 L104.5,112 L32,112 Z" fill="#577738" opacity="0.35"/><path d="M115.5,98 L104,112.4 M85,112.4 L104,112.4" fill="none" stroke="#22331a" stroke-width="0.9"/><rect x="45.5" y="95" width="3.4" height="17" fill="#48672b" stroke="#22331a" stroke-width="0.8"/><rect x="51.5" y="96.5" width="8" height="15" fill="#3d5924" stroke="#22331a" stroke-width="0.8"/><ellipse cx="40.5" cy="108" rx="4.6" ry="3.4" fill="#48672b" stroke="#22331a" stroke-width="0.8"/><path d="M31.5,101 Q27,103 27,111 Q27,120 31.5,121 Z" fill="#3d5924" stroke="#22331a" stroke-width="0.8"/><path d="M28,104.5 Q26.3,111 28,117.5" stroke="#cfd8d0" stroke-width="1.3" fill="none"/><path d="M101,121 L127,159 M122,108 Q116,125 118,153" fill="none" stroke="#22331a" stroke-width="0.7"/><path d="M116,155 L216,155 L237,122.5 L281,117 M243,111.6 L219,153 M245.6,111.6 L221.6,153 M224,116.4 L311,116.4 M281,117 L300,148 L300,153" fill="none" stroke="#22331a" stroke-width="0.8"/><path d="M305.4,110 L310.9,110 L310.6,119.5 L306.6,119.5 Z" fill="#93955a" stroke="#3d4520" stroke-width="0.7"/><path d="M308.8,119.5 V150" stroke="#22331a" stroke-width="1.6"/><path d="M308.8,120 V150" stroke="#577738" stroke-width="0.6"/><path d="M158,146 H189" stroke="#b9bd95" stroke-width="1.3" stroke-dasharray="1.5 0.8 1.5 0.8 1.5 0.8 1.5 2.2"/><path d="M128,148.5 L200.5,148.9 L200.5,151.8 L150,152.2 L128,152.2 Z" fill="#95693a" stroke="#4a3a20" stroke-width="0.5"/><path d="M161.6,153.8 H182" stroke="#aeb083" stroke-width="1.1" stroke-dasharray="1.5 0.8 1.5 0.8 1.5 2.4"/><rect x="200.5" y="143.8" width="8.4" height="12.2" fill="#6f7b62" stroke="#22331a" stroke-width="0.7"/><path d="M31.5,143 L26.6,143 L26.6,139.6 Q26.6,138.4 25,138.4 L21.5,138.4 Q20,138.4 19.5,140 L16.5,141 L15.8,144 L17.7,145 L17.7,152.6 L21.4,152.6 L21.4,149.6 L31.5,149.6 Z" fill="#48672b" stroke="#22331a" stroke-width="1.15" stroke-linejoin="round"/><circle cx="65.5" cy="157.2" r="35" fill="#6c6c6f"/><circle cx="65.5" cy="157.2" r="30.4" fill="#737375"/><path d="M95.9,157.2L100.5,158.9M95.8,159.5L100.2,161.6M95.6,161.7L99.8,164.1M95.1,164.0L99.2,166.7M94.5,166.2L98.4,169.2M93.8,168.3L97.4,171.6M92.9,170.4L96.2,173.9M91.8,172.4L94.9,176.2M90.6,174.3L93.4,178.3M89.3,176.2L91.7,180.4M87.8,177.9L89.9,182.3M86.2,179.5L88.0,184.0M84.5,181.0L85.9,185.6M82.6,182.3L83.7,187.1M80.7,183.5L81.5,188.3M78.7,184.6L79.1,189.5M76.6,185.5L76.6,190.4M74.5,186.2L74.1,191.1M72.3,186.8L71.6,191.7M70.0,187.3L69.0,192.0M67.8,187.5L66.4,192.2M65.5,187.6L63.8,192.2M63.2,187.5L61.1,191.9M61.0,187.3L58.6,191.5M58.7,186.8L56.0,190.9M56.5,186.2L53.5,190.1M54.4,185.5L51.1,189.1M52.3,184.6L48.8,187.9M50.3,183.5L46.5,186.6M48.4,182.3L44.4,185.1M46.5,181.0L42.3,183.4M44.8,179.5L40.4,181.6M43.2,177.9L38.7,179.7M41.7,176.2L37.1,177.6M40.4,174.3L35.6,175.4M39.2,172.4L34.4,173.2M38.1,170.4L33.2,170.8M37.2,168.3L32.3,168.3M36.5,166.2L31.6,165.8M35.9,164.0L31.0,163.3M35.4,161.7L30.7,160.7M35.2,159.5L30.5,158.1M35.1,157.2L30.5,155.5M35.2,154.9L30.8,152.8M35.4,152.7L31.2,150.3M35.9,150.4L31.8,147.7M36.5,148.2L32.6,145.2M37.2,146.1L33.6,142.8M38.1,144.0L34.8,140.5M39.2,142.0L36.1,138.2M40.4,140.1L37.6,136.1M41.7,138.2L39.3,134.0M43.2,136.5L41.1,132.1M44.8,134.9L43.0,130.4M46.5,133.4L45.1,128.8M48.4,132.1L47.3,127.3M50.3,130.9L49.5,126.1M52.3,129.8L51.9,124.9M54.4,128.9L54.4,124.0M56.5,128.2L56.9,123.3M58.7,127.6L59.4,122.7M61.0,127.1L62.0,122.4M63.2,126.9L64.6,122.2M65.5,126.8L67.2,122.2M67.8,126.9L69.9,122.5M70.0,127.1L72.4,122.9M72.3,127.6L75.0,123.5M74.5,128.2L77.5,124.3M76.6,128.9L79.9,125.3M78.7,129.8L82.2,126.5M80.7,130.9L84.5,127.8M82.6,132.1L86.6,129.3M84.5,133.4L88.7,131.0M86.2,134.9L90.6,132.8M87.8,136.5L92.3,134.7M89.3,138.2L93.9,136.8M90.6,140.1L95.4,139.0M91.8,142.0L96.6,141.2M92.9,144.0L97.8,143.6M93.8,146.1L98.7,146.1M94.5,148.2L99.4,148.6M95.1,150.4L100.0,151.1M95.6,152.7L100.3,153.7M95.8,154.9L100.5,156.3" stroke="#47474a" stroke-width="0.8" fill="none"/><circle cx="65.5" cy="157.2" r="34.7" fill="none" stroke="#4c4c4e" stroke-width="0.7"/><circle cx="65.5" cy="157.2" r="20.3" fill="#44622a" stroke="#22331a" stroke-width="1.8"/><circle cx="65.5" cy="157.2" r="17.4" fill="#4c6b30" stroke="#22331a" stroke-width="1"/><ellipse cx="79.6" cy="162.3" rx="2.5" ry="1.7" transform="rotate(110 79.6 162.3)" fill="#56763a" stroke="#2f451b" stroke-width="0.7"/><ellipse cx="65.0" cy="172.2" rx="2.5" ry="1.7" transform="rotate(182 65.0 172.2)" fill="#56763a" stroke="#2f451b" stroke-width="0.7"/><ellipse cx="51.1" cy="161.3" rx="2.5" ry="1.7" transform="rotate(254 51.1 161.3)" fill="#56763a" stroke="#2f451b" stroke-width="0.7"/><ellipse cx="57.1" cy="144.8" rx="2.5" ry="1.7" transform="rotate(326 57.1 144.8)" fill="#56763a" stroke="#2f451b" stroke-width="0.7"/><ellipse cx="74.7" cy="145.4" rx="2.5" ry="1.7" transform="rotate(398 74.7 145.4)" fill="#56763a" stroke="#2f451b" stroke-width="0.7"/><circle cx="65.5" cy="157.2" r="12.6" fill="#44622a" stroke="#22331a" stroke-width="1.5"/><circle cx="65.5" cy="157.2" r="8.4" fill="#4c6b30" stroke="#22331a" stroke-width="1"/><circle cx="65.5" cy="157.2" r="4.6" fill="#44622a" stroke="#22331a" stroke-width="1"/><circle cx="65.5" cy="157.2" r="1.8" fill="#4c6b30" stroke="#2f451b" stroke-width="0.7"/><circle cx="263.2" cy="156.8" r="35" fill="#6c6c6f"/><circle cx="263.2" cy="156.8" r="30.4" fill="#737375"/><path d="M293.6,156.8L298.2,158.5M293.5,159.1L297.9,161.2M293.3,161.3L297.5,163.7M292.8,163.6L296.9,166.3M292.2,165.8L296.1,168.8M291.5,167.9L295.1,171.2M290.6,170.0L293.9,173.5M289.5,172.0L292.6,175.8M288.3,173.9L291.1,177.9M287.0,175.8L289.4,180.0M285.5,177.5L287.6,181.9M283.9,179.1L285.7,183.6M282.2,180.6L283.6,185.2M280.3,181.9L281.4,186.7M278.4,183.1L279.2,187.9M276.4,184.2L276.8,189.1M274.3,185.1L274.3,190.0M272.2,185.8L271.8,190.7M270.0,186.4L269.3,191.3M267.7,186.9L266.7,191.6M265.5,187.1L264.1,191.8M263.2,187.2L261.5,191.8M260.9,187.1L258.8,191.5M258.7,186.9L256.3,191.1M256.4,186.4L253.7,190.5M254.2,185.8L251.2,189.7M252.1,185.1L248.8,188.7M250.0,184.2L246.5,187.5M248.0,183.1L244.2,186.2M246.1,181.9L242.1,184.7M244.2,180.6L240.0,183.0M242.5,179.1L238.1,181.2M240.9,177.5L236.4,179.3M239.4,175.8L234.8,177.2M238.1,173.9L233.3,175.0M236.9,172.0L232.1,172.8M235.8,170.0L230.9,170.4M234.9,167.9L230.0,167.9M234.2,165.8L229.3,165.4M233.6,163.6L228.7,162.9M233.1,161.3L228.4,160.3M232.9,159.1L228.2,157.7M232.8,156.8L228.2,155.1M232.9,154.5L228.5,152.4M233.1,152.3L228.9,149.9M233.6,150.0L229.5,147.3M234.2,147.8L230.3,144.8M234.9,145.7L231.3,142.4M235.8,143.6L232.5,140.1M236.9,141.6L233.8,137.8M238.1,139.7L235.3,135.7M239.4,137.8L237.0,133.6M240.9,136.1L238.8,131.7M242.5,134.5L240.7,130.0M244.2,133.0L242.8,128.4M246.1,131.7L245.0,126.9M248.0,130.5L247.2,125.7M250.0,129.4L249.6,124.5M252.1,128.5L252.1,123.6M254.2,127.8L254.6,122.9M256.4,127.2L257.1,122.3M258.7,126.7L259.7,122.0M260.9,126.5L262.3,121.8M263.2,126.4L264.9,121.8M265.5,126.5L267.6,122.1M267.7,126.7L270.1,122.5M270.0,127.2L272.7,123.1M272.2,127.8L275.2,123.9M274.3,128.5L277.6,124.9M276.4,129.4L279.9,126.1M278.4,130.5L282.2,127.4M280.3,131.7L284.3,128.9M282.2,133.0L286.4,130.6M283.9,134.5L288.3,132.4M285.5,136.1L290.0,134.3M287.0,137.8L291.6,136.4M288.3,139.7L293.1,138.6M289.5,141.6L294.3,140.8M290.6,143.6L295.5,143.2M291.5,145.7L296.4,145.7M292.2,147.8L297.1,148.2M292.8,150.0L297.7,150.7M293.3,152.3L298.0,153.3M293.5,154.5L298.2,155.9" stroke="#47474a" stroke-width="0.8" fill="none"/><circle cx="263.2" cy="156.8" r="34.7" fill="none" stroke="#4c4c4e" stroke-width="0.7"/><circle cx="263.2" cy="156.8" r="20.3" fill="#44622a" stroke="#22331a" stroke-width="1.8"/><circle cx="263.2" cy="156.8" r="17.4" fill="#4c6b30" stroke="#22331a" stroke-width="1"/><ellipse cx="277.3" cy="161.9" rx="2.5" ry="1.7" transform="rotate(110 277.3 161.9)" fill="#56763a" stroke="#2f451b" stroke-width="0.7"/><ellipse cx="262.7" cy="171.8" rx="2.5" ry="1.7" transform="rotate(182 262.7 171.8)" fill="#56763a" stroke="#2f451b" stroke-width="0.7"/><ellipse cx="248.8" cy="160.9" rx="2.5" ry="1.7" transform="rotate(254 248.8 160.9)" fill="#56763a" stroke="#2f451b" stroke-width="0.7"/><ellipse cx="254.8" cy="144.4" rx="2.5" ry="1.7" transform="rotate(326 254.8 144.4)" fill="#56763a" stroke="#2f451b" stroke-width="0.7"/><ellipse cx="272.4" cy="145.0" rx="2.5" ry="1.7" transform="rotate(398 272.4 145.0)" fill="#56763a" stroke="#2f451b" stroke-width="0.7"/><circle cx="263.2" cy="156.8" r="12.6" fill="#44622a" stroke="#22331a" stroke-width="1.5"/><circle cx="263.2" cy="156.8" r="8.4" fill="#4c6b30" stroke="#22331a" stroke-width="1"/><circle cx="263.2" cy="156.8" r="4.6" fill="#44622a" stroke="#22331a" stroke-width="1"/><circle cx="263.2" cy="156.8" r="1.8" fill="#4c6b30" stroke="#2f451b" stroke-width="0.7"/><text x="68" y="107.3" font-family="Liberation Sans, sans-serif" font-weight="bold" font-size="6.6" fill="#f4f4f0" textLength="32" lengthAdjust="spacingAndGlyphs">2P 4914</text><text x="68.5" y="101.7" font-family="Liberation Sans, sans-serif" font-weight="bold" font-size="2.8" fill="#dfe2d2" textLength="31">U.S. ARMY</text><text x="54.9" y="116" font-family="Liberation Sans, sans-serif" font-weight="bold" font-size="3.4" fill="#f2f2ee" textLength="10">TP-26</text><text x="263" y="116" font-family="Liberation Sans, sans-serif" font-weight="bold" font-size="3.4" fill="#f2f2ee" textLength="10.4">TP-26</text><polygon points="113.9,110.9 115.7,116.0 121.0,116.1 116.8,119.3 118.3,124.5 113.9,121.4 109.5,124.5 111.0,119.3 106.8,116.1 112.1,116.0" fill="#f6f6f0"/></g>
<g id="r2front" transform="translate(420.9,253.6) scale(1.014,1.028) translate(-419.3,-30.5)"><path d="M347.5,135.4 Q341,136 341,146 Q341,157 347.5,157.5 Z" fill="#6a7466" stroke="#22331a" stroke-width="0.7"/><rect x="347.8" y="122" width="17.6" height="68.6" rx="7" fill="#5a5a5d" stroke="#38383a" stroke-width="0.9"/><path d="M348.8,127.4L354.0,126.0M359.20000000000005,126.0L364.40000000000003,127.4M354.40000000000003,127.65H358.8M348.8,130.70000000000002L354.0,129.3M359.20000000000005,129.3L364.40000000000003,130.70000000000002M354.40000000000003,130.95000000000002H358.8M348.8,134.0L354.0,132.6M359.20000000000005,132.6L364.40000000000003,134.0M354.40000000000003,134.25H358.8M348.8,137.3L354.0,135.9M359.20000000000005,135.9L364.40000000000003,137.3M354.40000000000003,137.55H358.8M348.8,140.6L354.0,139.2M359.20000000000005,139.2L364.40000000000003,140.6M354.40000000000003,140.85H358.8M348.8,143.9L354.0,142.5M359.20000000000005,142.5L364.40000000000003,143.9M354.40000000000003,144.15H358.8M348.8,147.20000000000002L354.0,145.8M359.20000000000005,145.8L364.40000000000003,147.20000000000002M354.40000000000003,147.45000000000002H358.8M348.8,150.5L354.0,149.1M359.20000000000005,149.1L364.40000000000003,150.5M354.40000000000003,150.75H358.8M348.8,153.8L354.0,152.4M359.20000000000005,152.4L364.40000000000003,153.8M354.40000000000003,154.05H358.8M348.8,157.1L354.0,155.7M359.20000000000005,155.7L364.40000000000003,157.1M354.40000000000003,157.35H358.8M348.8,160.4L354.0,159.0M359.20000000000005,159.0L364.40000000000003,160.4M354.40000000000003,160.65H358.8M348.8,163.70000000000002L354.0,162.3M359.20000000000005,162.3L364.40000000000003,163.70000000000002M354.40000000000003,163.95000000000002H358.8M348.8,167.0L354.0,165.6M359.20000000000005,165.6L364.40000000000003,167.0M354.40000000000003,167.25H358.8M348.8,170.3L354.0,168.9M359.20000000000005,168.9L364.40000000000003,170.3M354.40000000000003,170.55H358.8M348.8,173.6L354.0,172.2M359.20000000000005,172.2L364.40000000000003,173.6M354.40000000000003,173.85H358.8M348.8,176.9L354.0,175.5M359.20000000000005,175.5L364.40000000000003,176.9M354.40000000000003,177.15H358.8M348.8,180.20000000000002L354.0,178.8M359.20000000000005,178.8L364.40000000000003,180.20000000000002M354.40000000000003,180.45000000000002H358.8M348.8,183.5L354.0,182.1M359.20000000000005,182.1L364.40000000000003,183.5M354.40000000000003,183.75H358.8" stroke="#3e3e41" stroke-width="0.8" fill="none"/><path d="M354.0,125V187.6M359.20000000000005,125V187.6" stroke="#444447" stroke-width="0.7"/><rect x="472.4" y="122" width="17.6" height="68.6" rx="7" fill="#5a5a5d" stroke="#38383a" stroke-width="0.9"/><path d="M473.4,127.4L478.59999999999997,126.0M483.8,126.0L489.0,127.4M479.0,127.65H483.4M473.4,130.70000000000002L478.59999999999997,129.3M483.8,129.3L489.0,130.70000000000002M479.0,130.95000000000002H483.4M473.4,134.0L478.59999999999997,132.6M483.8,132.6L489.0,134.0M479.0,134.25H483.4M473.4,137.3L478.59999999999997,135.9M483.8,135.9L489.0,137.3M479.0,137.55H483.4M473.4,140.6L478.59999999999997,139.2M483.8,139.2L489.0,140.6M479.0,140.85H483.4M473.4,143.9L478.59999999999997,142.5M483.8,142.5L489.0,143.9M479.0,144.15H483.4M473.4,147.20000000000002L478.59999999999997,145.8M483.8,145.8L489.0,147.20000000000002M479.0,147.45000000000002H483.4M473.4,150.5L478.59999999999997,149.1M483.8,149.1L489.0,150.5M479.0,150.75H483.4M473.4,153.8L478.59999999999997,152.4M483.8,152.4L489.0,153.8M479.0,154.05H483.4M473.4,157.1L478.59999999999997,155.7M483.8,155.7L489.0,157.1M479.0,157.35H483.4M473.4,160.4L478.59999999999997,159.0M483.8,159.0L489.0,160.4M479.0,160.65H483.4M473.4,163.70000000000002L478.59999999999997,162.3M483.8,162.3L489.0,163.70000000000002M479.0,163.95000000000002H483.4M473.4,167.0L478.59999999999997,165.6M483.8,165.6L489.0,167.0M479.0,167.25H483.4M473.4,170.3L478.59999999999997,168.9M483.8,168.9L489.0,170.3M479.0,170.55H483.4M473.4,173.6L478.59999999999997,172.2M483.8,172.2L489.0,173.6M479.0,173.85H483.4M473.4,176.9L478.59999999999997,175.5M483.8,175.5L489.0,176.9M479.0,177.15H483.4M473.4,180.20000000000002L478.59999999999997,178.8M483.8,178.8L489.0,180.20000000000002M479.0,180.45000000000002H483.4M473.4,183.5L478.59999999999997,182.1M483.8,182.1L489.0,183.5M479.0,183.75H483.4" stroke="#3e3e41" stroke-width="0.8" fill="none"/><path d="M478.59999999999997,125V187.6M483.8,125V187.6" stroke="#444447" stroke-width="0.7"/><path d="M365.5,149 L473,149 L473,155 L450,157.5 L436,158.5 L432,165 L407,165 L403,158.5 L389,157.5 L365.5,155 Z" fill="#3d5924" stroke="#22331a" stroke-width="1.15" stroke-linejoin="round"/><path d="M366,155 L395,151.5 L405,158 M473,155 L444,151.5 L434,158" fill="none" stroke="#22331a" stroke-width="0.7"/><path d="M345.5,42 L346.5,98 L492.5,98 L493.6,45 Z" fill="#48672b" stroke="#22331a" stroke-width="1.15" stroke-linejoin="round"/><path d="M345.5,51 L345.5,42 Q345.5,30.4 356,30.4 L481,30.4 Q493.6,30.4 493.6,45 L493.6,51 Q491,45.4 484,45.4 L355,45.4 Q348,45.4 345.5,51 Z" fill="#79813f" stroke="#3d4520" stroke-width="1.1"/><path d="M346.8,41 Q347,31.8 356,31.8 L481,31.8 Q491.6,31.8 492.4,41 Z" fill="#8c9352"/><path d="M346.5,41.2 H492.6" stroke="#3d4520" stroke-width="0.7"/><path d="M353,45.6 L486,45.6 Q489,45.6 489,50 L487,76 Q486.5,80 482,80 L357,80 Q353,80 352.5,76 L351,50 Q351,45.6 353,45.6 Z" fill="#3d5924" stroke="#22331a" stroke-width="1.15" stroke-linejoin="round"/><rect x="362.8" y="49.7" width="50.4" height="23.6" rx="3.5" fill="#cfe2f1" stroke="#22331a" stroke-width="1"/><path d="M426,49.7 L476.5,49.7 L476.5,74 Q476.5,78 472.5,78 L426,78 Z" fill="#cfe2f1" stroke="#22331a" stroke-width="1"/><rect x="417.3" y="45.6" width="4" height="34.4" fill="#48672b" stroke="#22331a" stroke-width="0.7"/><path d="M444,77.4 Q454,70.6 465,77.4" fill="none" stroke="#34432f" stroke-width="2.8"/><path d="M382,82.8 L411,79.6 M426,79.6 L459,82.4" stroke="#22331a" stroke-width="0.9"/><path d="M347.5,84 Q352,80 358,80 L481,80 Q488,80 492,84 L492.5,98 L346.5,98 Z" fill="#48672b" stroke="#22331a" stroke-width="1.15" stroke-linejoin="round"/><rect x="349" y="84.5" width="141" height="9" fill="#577738" opacity="0.45"/><path d="M346,97 L492.6,97 L492.6,121 L473,121 L473,150 L365.5,150 L365.5,121 L346,121 Z" fill="#48672b" stroke="#22331a" stroke-width="1.15" stroke-linejoin="round"/><path d="M369.5,108 Q371,99.4 381,99.2 L458,99.2 Q468,99.4 469.5,108 L469.5,113 L445,137 L445,141.4 L394,141.4 L394,137 L369.5,113 Z" fill="#446328" stroke="#22331a" stroke-width="1.15" stroke-linejoin="round"/><path d="M365.5,121 L394,141 M473,121 L445,141" stroke="#22331a" stroke-width="0.7" fill="none"/><rect x="352" y="93.6" width="9" height="3.6" fill="#48672b" stroke="#22331a" stroke-width="0.6"/><rect x="478" y="93.6" width="9" height="3.6" fill="#48672b" stroke="#22331a" stroke-width="0.6"/><rect x="379" y="97.4" width="9" height="1.8" fill="#2f451b"/><rect x="450" y="97.4" width="9" height="1.8" fill="#2f451b"/><rect x="399.5" y="107.40" width="40.3" height="2.3" rx="1.4" fill="#434e36" stroke="#22331a" stroke-width="0.9"/><rect x="399.5" y="111.06" width="40.3" height="4.5" rx="1.4" fill="#434e36" stroke="#22331a" stroke-width="0.9"/><rect x="397.5" y="116.92" width="44.3" height="4.5" rx="1.4" fill="#434e36" stroke="#22331a" stroke-width="0.9"/><rect x="397.5" y="122.78" width="44.3" height="4.5" rx="1.4" fill="#434e36" stroke="#22331a" stroke-width="0.9"/><rect x="397.5" y="128.64" width="44.3" height="4.5" rx="1.4" fill="#434e36" stroke="#22331a" stroke-width="0.9"/><rect x="397.5" y="134.50" width="44.3" height="4.5" rx="1.4" fill="#434e36" stroke="#22331a" stroke-width="0.9"/><circle cx="385" cy="111" r="9.4" fill="#48672b" stroke="#22331a" stroke-width="0.8"/><circle cx="385" cy="111" r="7.3" fill="#d9e7ec" stroke="#22331a" stroke-width="1"/><path d="M378.6,108.6 h12.8 M378.6,113.4 h12.8 M382.6,104.4 v13.2 M387.4,104.4 v13.2" stroke="#9db4c0" stroke-width="0.7"/><circle cx="453.6" cy="111" r="9.4" fill="#48672b" stroke="#22331a" stroke-width="0.8"/><circle cx="453.6" cy="111" r="7.3" fill="#d9e7ec" stroke="#22331a" stroke-width="1"/><path d="M447.20000000000005,108.6 h12.8 M447.20000000000005,113.4 h12.8 M451.20000000000005,104.4 v13.2 M456.0,104.4 v13.2" stroke="#9db4c0" stroke-width="0.7"/><circle cx="390.7" cy="125.4" r="3" fill="#48672b" stroke="#22331a" stroke-width="0.8"/><circle cx="447.4" cy="125.4" r="3" fill="#48672b" stroke="#22331a" stroke-width="0.8"/><rect x="353.0" y="100.6" width="8.4" height="11" rx="2.4" fill="#3d5924" stroke="#22331a" stroke-width="0.7"/><circle cx="357.2" cy="107.4" r="2.5" fill="#d89c48" stroke="#22331a" stroke-width="0.6"/><rect x="477.0" y="100.6" width="8.4" height="11" rx="2.4" fill="#3d5924" stroke="#22331a" stroke-width="0.7"/><circle cx="481.2" cy="107.4" r="2.5" fill="#d89c48" stroke="#22331a" stroke-width="0.6"/><rect x="347.6" y="144.1" width="143.6" height="6" rx="3" fill="#48672b" stroke="#22331a" stroke-width="1.15" stroke-linejoin="round"/><path d="M394,141.4 V144 M445,141.4 V144" stroke="#22331a" stroke-width="3.4"/><circle cx="396.5" cy="143.2" r="2.7" fill="#48672b" stroke="#22331a" stroke-width="0.9"/><circle cx="442.5" cy="143.2" r="2.7" fill="#48672b" stroke="#22331a" stroke-width="0.9"/><circle cx="351.6" cy="147" r="3.6" fill="none" stroke="#22331a" stroke-width="0.8"/><circle cx="487.4" cy="147" r="3.6" fill="none" stroke="#22331a" stroke-width="0.8"/><rect x="365" y="84" width="109" height="8" fill="#f4f4ec" stroke="#22331a" stroke-width="0.5"/><text x="380.5" y="91.1" font-family="Liberation Sans, sans-serif" font-size="8.6" fill="#1c1c1c" textLength="77" lengthAdjust="spacingAndGlyphs">MILITARY POLICE</text><path d="M369.4,85.2 h5.2 v3 q0,2.4 -2.6,3.2 q-2.6,-0.8 -2.6,-3.2 Z" fill="#c9b53a" stroke="#5a5420" stroke-width="0.4"/><path d="M464.4,85.2 h5.2 v3 q0,2.4 -2.6,3.2 q-2.6,-0.8 -2.6,-3.2 Z" fill="#c9b53a" stroke="#5a5420" stroke-width="0.4"/><text x="403" y="105.9" font-family="Liberation Sans, sans-serif" font-weight="bold" font-size="5.8" fill="#f4f4ee" textLength="33">USA 2P 4914</text><text x="367.5" y="149.8" font-family="Liberation Sans, sans-serif" font-weight="bold" font-size="6" fill="#f4f4ee" textLength="15.8" lengthAdjust="spacingAndGlyphs">24MP</text><text x="458.7" y="149.8" font-family="Liberation Sans, sans-serif" font-weight="bold" font-size="6" fill="#f4f4ee" textLength="14.6" lengthAdjust="spacingAndGlyphs">PB11</text><path d="M488,98 L501.5,87.4" stroke="#22331a" stroke-width="2.8"/><path d="M488,98 L501.5,87.4" stroke="#48672b" stroke-width="1.1"/><circle cx="505.2" cy="83.2" r="5.2" fill="#48672b" stroke="#22331a" stroke-width="1.15" stroke-linejoin="round"/></g>
<g id="r2rear" transform="translate(647.8,336.7) scale(1.016) translate(-642,-112.1)"><g transform="translate(0,1.6)"><rect x="534.2" y="122" width="17.8" height="68.8" rx="7" fill="#5a5a5d" stroke="#38383a" stroke-width="0.9"/><path d="M535.2,127.4L540.5,126.0M545.7,126.0L551.0,127.4M540.9,127.65H545.3000000000001M535.2,130.70000000000002L540.5,129.3M545.7,129.3L551.0,130.70000000000002M540.9,130.95000000000002H545.3000000000001M535.2,134.0L540.5,132.6M545.7,132.6L551.0,134.0M540.9,134.25H545.3000000000001M535.2,137.3L540.5,135.9M545.7,135.9L551.0,137.3M540.9,137.55H545.3000000000001M535.2,140.6L540.5,139.2M545.7,139.2L551.0,140.6M540.9,140.85H545.3000000000001M535.2,143.9L540.5,142.5M545.7,142.5L551.0,143.9M540.9,144.15H545.3000000000001M535.2,147.20000000000002L540.5,145.8M545.7,145.8L551.0,147.20000000000002M540.9,147.45000000000002H545.3000000000001M535.2,150.5L540.5,149.1M545.7,149.1L551.0,150.5M540.9,150.75H545.3000000000001M535.2,153.8L540.5,152.4M545.7,152.4L551.0,153.8M540.9,154.05H545.3000000000001M535.2,157.1L540.5,155.7M545.7,155.7L551.0,157.1M540.9,157.35H545.3000000000001M535.2,160.4L540.5,159.0M545.7,159.0L551.0,160.4M540.9,160.65H545.3000000000001M535.2,163.70000000000002L540.5,162.3M545.7,162.3L551.0,163.70000000000002M540.9,163.95000000000002H545.3000000000001M535.2,167.0L540.5,165.6M545.7,165.6L551.0,167.0M540.9,167.25H545.3000000000001M535.2,170.3L540.5,168.9M545.7,168.9L551.0,170.3M540.9,170.55H545.3000000000001M535.2,173.6L540.5,172.2M545.7,172.2L551.0,173.6M540.9,173.85H545.3000000000001M535.2,176.9L540.5,175.5M545.7,175.5L551.0,176.9M540.9,177.15H545.3000000000001M535.2,180.20000000000002L540.5,178.8M545.7,178.8L551.0,180.20000000000002M540.9,180.45000000000002H545.3000000000001M535.2,183.5L540.5,182.1M545.7,182.1L551.0,183.5M540.9,183.75H545.3000000000001M535.2,186.8L540.5,185.4M545.7,185.4L551.0,186.8M540.9,187.05H545.3000000000001" stroke="#3e3e41" stroke-width="0.8" fill="none"/><path d="M540.5,125V187.8M545.7,125V187.8" stroke="#444447" stroke-width="0.7"/><rect x="659" y="122" width="17.8" height="68.8" rx="7" fill="#5a5a5d" stroke="#38383a" stroke-width="0.9"/><path d="M660,127.4L665.3,126.0M670.5,126.0L675.8,127.4M665.6999999999999,127.65H670.1M660,130.70000000000002L665.3,129.3M670.5,129.3L675.8,130.70000000000002M665.6999999999999,130.95000000000002H670.1M660,134.0L665.3,132.6M670.5,132.6L675.8,134.0M665.6999999999999,134.25H670.1M660,137.3L665.3,135.9M670.5,135.9L675.8,137.3M665.6999999999999,137.55H670.1M660,140.6L665.3,139.2M670.5,139.2L675.8,140.6M665.6999999999999,140.85H670.1M660,143.9L665.3,142.5M670.5,142.5L675.8,143.9M665.6999999999999,144.15H670.1M660,147.20000000000002L665.3,145.8M670.5,145.8L675.8,147.20000000000002M665.6999999999999,147.45000000000002H670.1M660,150.5L665.3,149.1M670.5,149.1L675.8,150.5M665.6999999999999,150.75H670.1M660,153.8L665.3,152.4M670.5,152.4L675.8,153.8M665.6999999999999,154.05H670.1M660,157.1L665.3,155.7M670.5,155.7L675.8,157.1M665.6999999999999,157.35H670.1M660,160.4L665.3,159.0M670.5,159.0L675.8,160.4M665.6999999999999,160.65H670.1M660,163.70000000000002L665.3,162.3M670.5,162.3L675.8,163.70000000000002M665.6999999999999,163.95000000000002H670.1M660,167.0L665.3,165.6M670.5,165.6L675.8,167.0M665.6999999999999,167.25H670.1M660,170.3L665.3,168.9M670.5,168.9L675.8,170.3M665.6999999999999,170.55H670.1M660,173.6L665.3,172.2M670.5,172.2L675.8,173.6M665.6999999999999,173.85H670.1M660,176.9L665.3,175.5M670.5,175.5L675.8,176.9M665.6999999999999,177.15H670.1M660,180.20000000000002L665.3,178.8M670.5,178.8L675.8,180.20000000000002M665.6999999999999,180.45000000000002H670.1M660,183.5L665.3,182.1M670.5,182.1L675.8,183.5M665.6999999999999,183.75H670.1M660,186.8L665.3,185.4M670.5,185.4L675.8,186.8M665.6999999999999,187.05H670.1" stroke="#3e3e41" stroke-width="0.8" fill="none"/><path d="M665.3,125V187.8M670.5,125V187.8" stroke="#444447" stroke-width="0.7"/><path d="M680.6,128 Q684,130 684,138 Q684,146 680.6,148 Z" fill="#606a58" stroke="#22331a" stroke-width="0.7"/><path d="M552,153 L659,153 L659,158.4 L636,159.4 L612,159 L609,162 L601,162 L598,159 L574,159.4 L552,158.4 Z" fill="#3d5924" stroke="#22331a" stroke-width="1.15" stroke-linejoin="round"/><path d="M563.5,158 L568,164.5 L571,164.5 L573,158 Z M647.5,158 L643,164.5 L640,164.5 L638,158 Z" fill="#3d5924" stroke="#22331a" stroke-width="0.8"/><path d="M556,156 L598,156.6 M612,156.6 L655,156" fill="none" stroke="#22331a" stroke-width="0.6"/></g><path d="M532,110 L680.6,110 L680.6,150 L677,154.5 L536,154.5 L532,150 Z" fill="#48672b" stroke="#22331a" stroke-width="1.15" stroke-linejoin="round"/><path d="M532,148 H680.6" stroke="#22331a" stroke-width="0.7"/><path d="M530.6,115.7 L533.4,42 Q533.6,30.4 545,30.4 L668,30.4 Q679.6,30.4 679.8,42 L682,115.7 L670,124 L610,133.7 L584,133.7 L584,115.7 Z" fill="#93955a" stroke="#3d4520" stroke-width="1" stroke-linejoin="round"/><path d="M543.5,40 L543.5,114 M604.8,36 L604.8,133 M670.5,40 L670.5,122 M543.5,40 L670.5,40 M544,93 L604,93 M605,78.5 L670,78.5" fill="none" stroke="#7d8048" stroke-width="0.8"/><path d="M546,42.5 H602 M607,42.5 H668 M546,90.5 H602 M607,76 H668" fill="none" stroke="#6a6e3c" stroke-width="3" stroke-dasharray="0.5 1.5"/><path d="M546.3,43 V91 M602,43 V91 M608.5,43 V76 M667,43 V76" fill="none" stroke="#6a6e3c" stroke-width="3" stroke-dasharray="0.5 1.5"/><path d="M536,48 Q537.5,80 535,113 M539,44 Q540.5,80 538.5,113 M541.5,60 Q542.3,90 541,113 M536,112 Q541,104 546,96 M538,113 Q546,105 554,97 M541,113.5 Q551,107 562,98 M545,114 Q556,110 566,101 M588,96 Q589,115 587,132 M592,96 Q594,115 592,133 M596,96 Q597,115 598,133 M600.5,96 Q601.5,110 601.5,133 M607.5,80 Q608.5,100 607,130 M673,44 Q675,70 674,90 M676.5,48 Q678,80 677,112 M679,62 Q680.4,90 680,112 M560,96 Q575,99.5 600,97 M586,120 Q596,125 604,121 M548,33 L549.5,39.5 M560,32 L561,39.5 M590,32 L589.5,39.5 M625,32 L626,39.5 M655,32 L654,39.5 M666,33 L664.5,39.5 M575,96 L575.6,106 M580,96 L580.5,106" fill="none" stroke="#666a3a" stroke-width="0.6"/><rect x="549.4" y="44.2" width="49" height="43.5" rx="3.8" fill="#36522a" stroke="#22331a" stroke-width="1"/><path d="M550.4,49.8 L597.4,49.8 L597.4,78.8 L550.4,78.8 Z" fill="#cfe2f1"/><rect x="550.4" y="78.8" width="47" height="7.6" fill="#3c5a27"/><path d="M555.5,86.6 Q555.5,74.5 571.3,74.5 Q587.5,74.5 587.5,86.6" fill="none" stroke="#2c372a" stroke-width="2.2"/><path d="M561.5,86.5 L569,78.5 L574,78.5 L581.5,86.5" fill="none" stroke="#2f3b2a" stroke-width="1.1"/><rect x="612" y="44.2" width="49.6" height="28.6" rx="3.8" fill="#36522a" stroke="#22331a" stroke-width="1"/><path d="M613,49.8 L660.6,49.8 L660.6,69 Q660.6,71.8 658,71.8 L615.6,71.8 Q613,71.8 613,69 Z" fill="#cfe2f1"/><circle cx="642" cy="112.1" r="35" fill="#6c6c6f"/><circle cx="642" cy="112.1" r="30.4" fill="#737375"/><path d="M672.4,112.1L677.0,113.8M672.3,114.4L676.7,116.5M672.1,116.6L676.3,119.0M671.6,118.9L675.7,121.6M671.0,121.1L674.9,124.1M670.3,123.2L673.9,126.5M669.4,125.3L672.7,128.8M668.3,127.3L671.4,131.1M667.1,129.2L669.9,133.2M665.8,131.1L668.2,135.3M664.3,132.8L666.4,137.2M662.7,134.4L664.5,138.9M661.0,135.9L662.4,140.5M659.1,137.2L660.2,142.0M657.2,138.4L658.0,143.2M655.2,139.5L655.6,144.4M653.1,140.4L653.1,145.3M651.0,141.1L650.6,146.0M648.8,141.7L648.1,146.6M646.5,142.2L645.5,146.9M644.3,142.4L642.9,147.1M642.0,142.5L640.3,147.1M639.7,142.4L637.6,146.8M637.5,142.2L635.1,146.4M635.2,141.7L632.5,145.8M633.0,141.1L630.0,145.0M630.9,140.4L627.6,144.0M628.8,139.5L625.3,142.8M626.8,138.4L623.0,141.5M624.9,137.2L620.9,140.0M623.0,135.9L618.8,138.3M621.3,134.4L616.9,136.5M619.7,132.8L615.2,134.6M618.2,131.1L613.6,132.5M616.9,129.2L612.1,130.3M615.7,127.3L610.9,128.1M614.6,125.3L609.7,125.7M613.7,123.2L608.8,123.2M613.0,121.1L608.1,120.7M612.4,118.9L607.5,118.2M611.9,116.6L607.2,115.6M611.7,114.4L607.0,113.0M611.6,112.1L607.0,110.4M611.7,109.8L607.3,107.7M611.9,107.6L607.7,105.2M612.4,105.3L608.3,102.6M613.0,103.1L609.1,100.1M613.7,101.0L610.1,97.7M614.6,98.9L611.3,95.4M615.7,96.9L612.6,93.1M616.9,95.0L614.1,91.0M618.2,93.1L615.8,88.9M619.7,91.4L617.6,87.0M621.3,89.8L619.5,85.3M623.0,88.3L621.6,83.7M624.9,87.0L623.8,82.2M626.8,85.8L626.0,81.0M628.8,84.7L628.4,79.8M630.9,83.8L630.9,78.9M633.0,83.1L633.4,78.2M635.2,82.5L635.9,77.6M637.5,82.0L638.5,77.3M639.7,81.8L641.1,77.1M642.0,81.7L643.7,77.1M644.3,81.8L646.4,77.4M646.5,82.0L648.9,77.8M648.8,82.5L651.5,78.4M651.0,83.1L654.0,79.2M653.1,83.8L656.4,80.2M655.2,84.7L658.7,81.4M657.2,85.8L661.0,82.7M659.1,87.0L663.1,84.2M661.0,88.3L665.2,85.9M662.7,89.8L667.1,87.7M664.3,91.4L668.8,89.6M665.8,93.1L670.4,91.7M667.1,95.0L671.9,93.9M668.3,96.9L673.1,96.1M669.4,98.9L674.3,98.5M670.3,101.0L675.2,101.0M671.0,103.1L675.9,103.5M671.6,105.3L676.5,106.0M672.1,107.6L676.8,108.6M672.3,109.8L677.0,111.2" stroke="#47474a" stroke-width="0.8" fill="none"/><circle cx="642" cy="112.1" r="34.7" fill="none" stroke="#4c4c4e" stroke-width="0.7"/><circle cx="642" cy="112.1" r="20.5" fill="#44622a" stroke="#22331a" stroke-width="1.8"/><circle cx="642" cy="112.1" r="17.3" fill="#4c6b30" stroke="#22331a" stroke-width="1"/><ellipse cx="656.1" cy="117.2" rx="2.5" ry="1.7" transform="rotate(110 656.1 117.2)" fill="#56763a" stroke="#2f451b" stroke-width="0.7"/><ellipse cx="641.5" cy="127.1" rx="2.5" ry="1.7" transform="rotate(182 641.5 127.1)" fill="#56763a" stroke="#2f451b" stroke-width="0.7"/><ellipse cx="627.6" cy="116.2" rx="2.5" ry="1.7" transform="rotate(254 627.6 116.2)" fill="#56763a" stroke="#2f451b" stroke-width="0.7"/><ellipse cx="633.6" cy="99.7" rx="2.5" ry="1.7" transform="rotate(326 633.6 99.7)" fill="#56763a" stroke="#2f451b" stroke-width="0.7"/><ellipse cx="651.2" cy="100.3" rx="2.5" ry="1.7" transform="rotate(398 651.2 100.3)" fill="#56763a" stroke="#2f451b" stroke-width="0.7"/><circle cx="642" cy="112.1" r="14" fill="#44622a" stroke="#22331a" stroke-width="1.5"/><circle cx="642" cy="112.1" r="9.6" fill="#4c6b30" stroke="#22331a" stroke-width="1"/><circle cx="642" cy="112.1" r="5.6" fill="#44622a" stroke="#22331a" stroke-width="1"/><circle cx="642" cy="112.1" r="2.4" fill="#4c6b30" stroke="#2f451b" stroke-width="0.7"/><path d="M552.8,105 Q552.8,102 555.8,102 L573.6,102 L575.6,107.4 L582,107.4 Q584.6,107.4 584.6,110 L584.6,145.5 L552.8,145.5 Z" fill="#4f7030" stroke="#22331a" stroke-width="1.15" stroke-linejoin="round"/><path d="M557.5,116 L580,140 M580,116 L557.5,140" stroke="#5d7f3e" stroke-width="1.6" fill="none"/><path d="M552.8,112 H584.6 M552.8,141.5 H584.6" stroke="#2f451b" stroke-width="0.6" fill="none"/><rect x="567.8" y="103.4" width="2.2" height="42" fill="#9aa672" stroke="#2f451b" stroke-width="0.4"/><rect x="560.5" y="102.8" width="12" height="2.2" rx="1" fill="#9aa672" stroke="#22331a" stroke-width="0.5"/><rect x="551.5" y="143.8" width="34" height="3.6" fill="#3d5924" stroke="#22331a" stroke-width="0.6"/><rect x="554" y="146" width="29.3" height="8" fill="#54743a" stroke="#22331a" stroke-width="0.7"/><rect x="629.4" y="146" width="26" height="8" fill="#54743a" stroke="#22331a" stroke-width="0.7"/><rect x="601.6" y="138.4" width="7" height="22" rx="2.4" fill="#48672b" stroke="#22331a" stroke-width="0.8"/><rect x="596" y="150.5" width="18" height="4.4" rx="2" fill="#48672b" stroke="#22331a" stroke-width="0.8"/><path d="M584,148 Q594,146 601,150 M608,150 Q618,146 630,148" fill="none" stroke="#22331a" stroke-width="0.7"/><rect x="541" y="121" width="7" height="6" fill="#3d5924" stroke="#22331a" stroke-width="0.6"/><circle cx="538" cy="135" r="4.2" fill="#d23a34" stroke="#22331a" stroke-width="0.7"/><circle cx="542.4" cy="144.9" r="5.3" fill="#3d5924" stroke="#22331a" stroke-width="0.8"/><circle cx="542.4" cy="144.9" r="3.4" fill="#8e4a2a"/><circle cx="668.3" cy="144.9" r="5.3" fill="#3d5924" stroke="#22331a" stroke-width="0.8"/><circle cx="668.3" cy="144.9" r="3.4" fill="#8e4a2a"/><rect x="534.7" y="153.7" width="15" height="2.2" fill="#8a7850" stroke="#22331a" stroke-width="0.5"/><text x="560.2" y="153.4" font-family="Liberation Sans, sans-serif" font-weight="bold" font-size="6" fill="#f4f4ee" textLength="15.6" lengthAdjust="spacingAndGlyphs">24MP</text><text x="634.8" y="153.4" font-family="Liberation Sans, sans-serif" font-weight="bold" font-size="6" fill="#f4f4ee" textLength="14.3" lengthAdjust="spacingAndGlyphs">PB11</text><path d="M531.5,94 L521,84.5" stroke="#22331a" stroke-width="1.8"/><circle cx="518.2" cy="82.2" r="5" fill="#dfe9ee" stroke="#22331a" stroke-width="1.1"/></g>
</svg>
<div class="cap" id="c1" style="left:269.4px;top:208.4px;letter-spacing:0.2px;">アメリカ海兵隊 第 3 海兵師団</div>
<div class="cap" id="c2" style="left:266.6px;top:435.4px;letter-spacing:0.38px;">アメリカ陸軍 第 18 憲兵旅団</div>
</body></html>
